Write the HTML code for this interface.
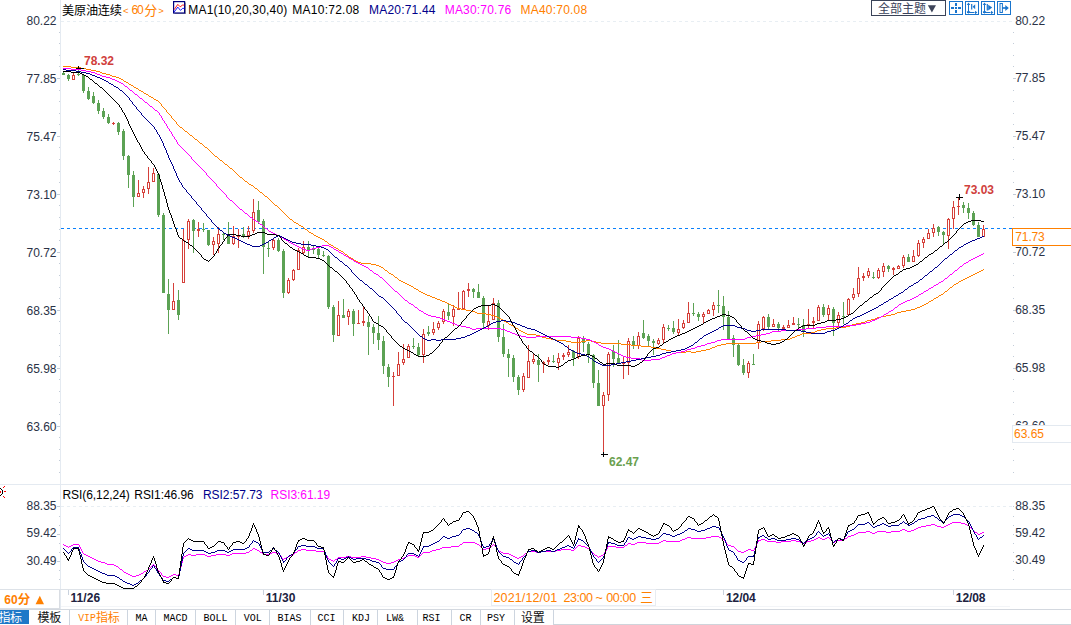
<!DOCTYPE html>
<html><head><meta charset="utf-8"><title>chart</title>
<style>html,body{margin:0;padding:0;background:#fff;overflow:hidden}svg text{white-space:pre}</style></head>
<body>
<svg width="1071" height="625" viewBox="0 0 1071 625" font-family='"Liberation Sans", sans-serif' style="display:block">
<rect width="1071" height="625" fill="#fff"/>
<g shape-rendering="crispEdges">
<rect x="60" y="0" width="1" height="609" fill="#e4eaf1"/>
<rect x="0" y="484" width="1071" height="1" fill="#e4eaf1"/>
<rect x="0" y="589" width="1071" height="1" fill="#dde2e8"/>
<rect x="61" y="606" width="949" height="1" fill="#f3f5f8"/>
<rect x="0" y="608" width="60" height="1" fill="#d9dde3"/>
<rect x="59" y="590" width="1" height="19" fill="#d9dde3"/>
<rect x="0" y="609" width="1071" height="1" fill="#d3d8df"/>
<rect x="553" y="624" width="518" height="1" fill="#cfd4db"/>
</g>
<line x1="61" y1="21.5" x2="1012" y2="21.5" stroke="#e8eef3" stroke-dasharray="3 3" shape-rendering="crispEdges"/>
<line x1="61" y1="506.5" x2="1012" y2="506.5" stroke="#e8eef3" stroke-dasharray="3 3" shape-rendering="crispEdges"/>
<g shape-rendering="crispEdges">
<rect x="59" y="32" width="1" height="1" fill="#c3ccd8"/>
<rect x="1013" y="32" width="1" height="1" fill="#c3ccd8"/>
<rect x="59" y="43" width="1" height="1" fill="#c3ccd8"/>
<rect x="1013" y="43" width="1" height="1" fill="#c3ccd8"/>
<rect x="59" y="55" width="1" height="1" fill="#c3ccd8"/>
<rect x="1013" y="55" width="1" height="1" fill="#c3ccd8"/>
<rect x="59" y="66" width="1" height="1" fill="#c3ccd8"/>
<rect x="1013" y="66" width="1" height="1" fill="#c3ccd8"/>
<rect x="57" y="78" width="3" height="1" fill="#c3ccd8"/>
<rect x="1013" y="78" width="3" height="1" fill="#c3ccd8"/>
<rect x="59" y="90" width="1" height="1" fill="#c3ccd8"/>
<rect x="1013" y="90" width="1" height="1" fill="#c3ccd8"/>
<rect x="59" y="101" width="1" height="1" fill="#c3ccd8"/>
<rect x="1013" y="101" width="1" height="1" fill="#c3ccd8"/>
<rect x="59" y="113" width="1" height="1" fill="#c3ccd8"/>
<rect x="1013" y="113" width="1" height="1" fill="#c3ccd8"/>
<rect x="59" y="124" width="1" height="1" fill="#c3ccd8"/>
<rect x="1013" y="124" width="1" height="1" fill="#c3ccd8"/>
<rect x="57" y="136" width="3" height="1" fill="#c3ccd8"/>
<rect x="1013" y="136" width="3" height="1" fill="#c3ccd8"/>
<rect x="59" y="147" width="1" height="1" fill="#c3ccd8"/>
<rect x="1013" y="147" width="1" height="1" fill="#c3ccd8"/>
<rect x="59" y="159" width="1" height="1" fill="#c3ccd8"/>
<rect x="1013" y="159" width="1" height="1" fill="#c3ccd8"/>
<rect x="59" y="171" width="1" height="1" fill="#c3ccd8"/>
<rect x="1013" y="171" width="1" height="1" fill="#c3ccd8"/>
<rect x="59" y="182" width="1" height="1" fill="#c3ccd8"/>
<rect x="1013" y="182" width="1" height="1" fill="#c3ccd8"/>
<rect x="57" y="194" width="3" height="1" fill="#c3ccd8"/>
<rect x="1013" y="194" width="3" height="1" fill="#c3ccd8"/>
<rect x="59" y="205" width="1" height="1" fill="#c3ccd8"/>
<rect x="1013" y="205" width="1" height="1" fill="#c3ccd8"/>
<rect x="59" y="217" width="1" height="1" fill="#c3ccd8"/>
<rect x="1013" y="217" width="1" height="1" fill="#c3ccd8"/>
<rect x="59" y="229" width="1" height="1" fill="#c3ccd8"/>
<rect x="1013" y="229" width="1" height="1" fill="#c3ccd8"/>
<rect x="59" y="240" width="1" height="1" fill="#c3ccd8"/>
<rect x="1013" y="240" width="1" height="1" fill="#c3ccd8"/>
<rect x="57" y="252" width="3" height="1" fill="#c3ccd8"/>
<rect x="1013" y="252" width="3" height="1" fill="#c3ccd8"/>
<rect x="59" y="263" width="1" height="1" fill="#c3ccd8"/>
<rect x="1013" y="263" width="1" height="1" fill="#c3ccd8"/>
<rect x="59" y="275" width="1" height="1" fill="#c3ccd8"/>
<rect x="1013" y="275" width="1" height="1" fill="#c3ccd8"/>
<rect x="59" y="287" width="1" height="1" fill="#c3ccd8"/>
<rect x="1013" y="287" width="1" height="1" fill="#c3ccd8"/>
<rect x="59" y="298" width="1" height="1" fill="#c3ccd8"/>
<rect x="1013" y="298" width="1" height="1" fill="#c3ccd8"/>
<rect x="57" y="310" width="3" height="1" fill="#c3ccd8"/>
<rect x="1013" y="310" width="3" height="1" fill="#c3ccd8"/>
<rect x="59" y="321" width="1" height="1" fill="#c3ccd8"/>
<rect x="1013" y="321" width="1" height="1" fill="#c3ccd8"/>
<rect x="59" y="333" width="1" height="1" fill="#c3ccd8"/>
<rect x="1013" y="333" width="1" height="1" fill="#c3ccd8"/>
<rect x="59" y="345" width="1" height="1" fill="#c3ccd8"/>
<rect x="1013" y="345" width="1" height="1" fill="#c3ccd8"/>
<rect x="59" y="356" width="1" height="1" fill="#c3ccd8"/>
<rect x="1013" y="356" width="1" height="1" fill="#c3ccd8"/>
<rect x="57" y="368" width="3" height="1" fill="#c3ccd8"/>
<rect x="1013" y="368" width="3" height="1" fill="#c3ccd8"/>
<rect x="59" y="379" width="1" height="1" fill="#c3ccd8"/>
<rect x="1013" y="379" width="1" height="1" fill="#c3ccd8"/>
<rect x="59" y="391" width="1" height="1" fill="#c3ccd8"/>
<rect x="1013" y="391" width="1" height="1" fill="#c3ccd8"/>
<rect x="59" y="402" width="1" height="1" fill="#c3ccd8"/>
<rect x="1013" y="402" width="1" height="1" fill="#c3ccd8"/>
<rect x="59" y="414" width="1" height="1" fill="#c3ccd8"/>
<rect x="1013" y="414" width="1" height="1" fill="#c3ccd8"/>
<rect x="57" y="426" width="3" height="1" fill="#c3ccd8"/>
<rect x="1013" y="426" width="3" height="1" fill="#c3ccd8"/>
<rect x="59" y="437" width="1" height="1" fill="#c3ccd8"/>
<rect x="1013" y="437" width="1" height="1" fill="#c3ccd8"/>
<rect x="59" y="449" width="1" height="1" fill="#c3ccd8"/>
<rect x="1013" y="449" width="1" height="1" fill="#c3ccd8"/>
<rect x="59" y="460" width="1" height="1" fill="#c3ccd8"/>
<rect x="1013" y="460" width="1" height="1" fill="#c3ccd8"/>
<rect x="59" y="472" width="1" height="1" fill="#c3ccd8"/>
<rect x="1013" y="472" width="1" height="1" fill="#c3ccd8"/>
<rect x="57" y="506" width="3" height="1" fill="#c3ccd8"/>
<rect x="1013" y="506" width="1" height="1" fill="#c3ccd8"/>
<rect x="59" y="516" width="1" height="1" fill="#c3ccd8"/>
<rect x="1013" y="516" width="1" height="1" fill="#c3ccd8"/>
<rect x="59" y="525" width="1" height="1" fill="#c3ccd8"/>
<rect x="1013" y="525" width="1" height="1" fill="#c3ccd8"/>
<rect x="57" y="534" width="3" height="1" fill="#c3ccd8"/>
<rect x="1013" y="534" width="1" height="1" fill="#c3ccd8"/>
<rect x="59" y="543" width="1" height="1" fill="#c3ccd8"/>
<rect x="1013" y="543" width="1" height="1" fill="#c3ccd8"/>
<rect x="59" y="552" width="1" height="1" fill="#c3ccd8"/>
<rect x="1013" y="552" width="1" height="1" fill="#c3ccd8"/>
<rect x="57" y="561" width="3" height="1" fill="#c3ccd8"/>
<rect x="1013" y="561" width="1" height="1" fill="#c3ccd8"/>
<rect x="59" y="570" width="1" height="1" fill="#c3ccd8"/>
<rect x="1013" y="570" width="1" height="1" fill="#c3ccd8"/>
<rect x="59" y="579" width="1" height="1" fill="#c3ccd8"/>
<rect x="1013" y="579" width="1" height="1" fill="#c3ccd8"/>
</g>
<text x="56.5" y="25.1" font-size="12" fill="#2a3246" text-anchor="end" font-weight="normal" >80.22</text>
<text x="1015.2" y="25.400000000000002" font-size="12" fill="#2a3246" text-anchor="start" font-weight="normal" >80.22</text>
<text x="56.5" y="83.1" font-size="12" fill="#2a3246" text-anchor="end" font-weight="normal" >77.85</text>
<text x="1015.2" y="82.39999999999999" font-size="12" fill="#2a3246" text-anchor="start" font-weight="normal" >77.85</text>
<text x="56.5" y="141.10000000000002" font-size="12" fill="#2a3246" text-anchor="end" font-weight="normal" >75.47</text>
<text x="1015.2" y="140.4" font-size="12" fill="#2a3246" text-anchor="start" font-weight="normal" >75.47</text>
<text x="56.5" y="199.10000000000002" font-size="12" fill="#2a3246" text-anchor="end" font-weight="normal" >73.10</text>
<text x="1015.2" y="198.4" font-size="12" fill="#2a3246" text-anchor="start" font-weight="normal" >73.10</text>
<text x="56.5" y="257.1" font-size="12" fill="#2a3246" text-anchor="end" font-weight="normal" >70.72</text>
<text x="1015.2" y="256.40000000000003" font-size="12" fill="#2a3246" text-anchor="start" font-weight="normal" >70.72</text>
<text x="56.5" y="315.1" font-size="12" fill="#2a3246" text-anchor="end" font-weight="normal" >68.35</text>
<text x="1015.2" y="314.40000000000003" font-size="12" fill="#2a3246" text-anchor="start" font-weight="normal" >68.35</text>
<text x="56.5" y="373.1" font-size="12" fill="#2a3246" text-anchor="end" font-weight="normal" >65.98</text>
<text x="1015.2" y="372.40000000000003" font-size="12" fill="#2a3246" text-anchor="start" font-weight="normal" >65.98</text>
<text x="56.5" y="431.1" font-size="12" fill="#2a3246" text-anchor="end" font-weight="normal" >63.60</text>
<text x="1015.2" y="430.40000000000003" font-size="12" fill="#2a3246" text-anchor="start" font-weight="normal" >63.60</text>
<text x="56.5" y="510.3" font-size="12" fill="#2a3246" text-anchor="end" font-weight="normal" >88.35</text>
<text x="1015.2" y="509.6" font-size="12" fill="#2a3246" text-anchor="start" font-weight="normal" >88.35</text>
<text x="56.5" y="537.3" font-size="12" fill="#2a3246" text-anchor="end" font-weight="normal" >59.42</text>
<text x="1015.2" y="536.6" font-size="12" fill="#2a3246" text-anchor="start" font-weight="normal" >59.42</text>
<text x="56.5" y="564.6999999999999" font-size="12" fill="#2a3246" text-anchor="end" font-weight="normal" >30.49</text>
<text x="1015.2" y="564.0" font-size="12" fill="#2a3246" text-anchor="start" font-weight="normal" >30.49</text>
<line x1="61" y1="228.5" x2="1012" y2="228.5" stroke="#0a80fa" stroke-dasharray="3 3" shape-rendering="crispEdges"/>
<g shape-rendering="crispEdges">
<rect x="63" y="71" width="1" height="4" fill="#5ca254"/>
<rect x="62" y="73" width="3" height="2" fill="#5ca254"/>
<rect x="68" y="74" width="1" height="7" fill="#5ca254"/>
<rect x="67" y="75" width="3" height="4" fill="#5ca254"/>
<rect x="73" y="73" width="1" height="7" fill="#d5403a"/>
<rect x="72" y="75" width="3" height="5" fill="#d5403a"/>
<rect x="73" y="76" width="1" height="3" fill="#fff"/>
<rect x="78" y="66" width="1" height="10" fill="#5ca254"/>
<rect x="77" y="74" width="3" height="1" fill="#5ca254"/>
<rect x="83" y="74" width="1" height="19" fill="#5ca254"/>
<rect x="82" y="75" width="3" height="16" fill="#5ca254"/>
<rect x="88" y="87" width="1" height="13" fill="#5ca254"/>
<rect x="87" y="91" width="3" height="8" fill="#5ca254"/>
<rect x="93" y="92" width="1" height="12" fill="#5ca254"/>
<rect x="92" y="96" width="3" height="7" fill="#5ca254"/>
<rect x="98" y="100" width="1" height="14" fill="#5ca254"/>
<rect x="97" y="103" width="3" height="8" fill="#5ca254"/>
<rect x="103" y="108" width="1" height="11" fill="#5ca254"/>
<rect x="102" y="111" width="3" height="6" fill="#5ca254"/>
<rect x="108" y="114" width="1" height="10" fill="#5ca254"/>
<rect x="107" y="117" width="3" height="6" fill="#5ca254"/>
<rect x="113" y="122" width="1" height="3" fill="#d5403a"/>
<rect x="112" y="123" width="3" height="1" fill="#d5403a"/>
<rect x="118" y="122" width="1" height="13" fill="#5ca254"/>
<rect x="117" y="123" width="3" height="9" fill="#5ca254"/>
<rect x="123" y="129" width="1" height="31" fill="#5ca254"/>
<rect x="122" y="131" width="3" height="25" fill="#5ca254"/>
<rect x="128" y="155" width="1" height="33" fill="#5ca254"/>
<rect x="127" y="156" width="3" height="19" fill="#5ca254"/>
<rect x="133" y="171" width="1" height="36" fill="#5ca254"/>
<rect x="132" y="175" width="3" height="22" fill="#5ca254"/>
<rect x="138" y="180" width="1" height="17" fill="#d5403a"/>
<rect x="137" y="193" width="3" height="4" fill="#d5403a"/>
<rect x="138" y="194" width="1" height="2" fill="#fff"/>
<rect x="143" y="186" width="1" height="12" fill="#d5403a"/>
<rect x="142" y="189" width="3" height="4" fill="#d5403a"/>
<rect x="143" y="190" width="1" height="2" fill="#fff"/>
<rect x="148" y="167" width="1" height="27" fill="#d5403a"/>
<rect x="147" y="182" width="3" height="7" fill="#d5403a"/>
<rect x="148" y="183" width="1" height="5" fill="#fff"/>
<rect x="153" y="168" width="1" height="14" fill="#d5403a"/>
<rect x="152" y="173" width="3" height="9" fill="#d5403a"/>
<rect x="153" y="174" width="1" height="7" fill="#fff"/>
<rect x="158" y="173" width="1" height="44" fill="#5ca254"/>
<rect x="157" y="174" width="3" height="41" fill="#5ca254"/>
<rect x="163" y="213" width="1" height="80" fill="#5ca254"/>
<rect x="162" y="215" width="3" height="78" fill="#5ca254"/>
<rect x="168" y="279" width="1" height="55" fill="#5ca254"/>
<rect x="167" y="294" width="3" height="16" fill="#5ca254"/>
<rect x="173" y="283" width="1" height="27" fill="#d5403a"/>
<rect x="172" y="301" width="3" height="9" fill="#d5403a"/>
<rect x="173" y="302" width="1" height="7" fill="#fff"/>
<rect x="178" y="290" width="1" height="30" fill="#5ca254"/>
<rect x="177" y="300" width="3" height="15" fill="#5ca254"/>
<rect x="183" y="229" width="1" height="54" fill="#d5403a"/>
<rect x="182" y="240" width="3" height="43" fill="#d5403a"/>
<rect x="183" y="241" width="1" height="41" fill="#fff"/>
<rect x="188" y="219" width="1" height="30" fill="#d5403a"/>
<rect x="187" y="221" width="3" height="19" fill="#d5403a"/>
<rect x="188" y="222" width="1" height="17" fill="#fff"/>
<rect x="193" y="219" width="1" height="34" fill="#5ca254"/>
<rect x="192" y="220" width="3" height="11" fill="#5ca254"/>
<rect x="198" y="222" width="1" height="15" fill="#d5403a"/>
<rect x="197" y="229" width="3" height="2" fill="#d5403a"/>
<rect x="203" y="223" width="1" height="9" fill="#5ca254"/>
<rect x="202" y="229" width="3" height="1" fill="#5ca254"/>
<rect x="208" y="230" width="1" height="16" fill="#5ca254"/>
<rect x="207" y="230" width="3" height="15" fill="#5ca254"/>
<rect x="213" y="237" width="1" height="18" fill="#d5403a"/>
<rect x="212" y="241" width="3" height="4" fill="#d5403a"/>
<rect x="213" y="242" width="1" height="2" fill="#fff"/>
<rect x="218" y="227" width="1" height="26" fill="#d5403a"/>
<rect x="217" y="234" width="3" height="10" fill="#d5403a"/>
<rect x="218" y="235" width="1" height="8" fill="#fff"/>
<rect x="223" y="232" width="1" height="8" fill="#5ca254"/>
<rect x="222" y="234" width="3" height="1" fill="#5ca254"/>
<rect x="228" y="222" width="1" height="22" fill="#5ca254"/>
<rect x="227" y="234" width="3" height="10" fill="#5ca254"/>
<rect x="233" y="226" width="1" height="19" fill="#d5403a"/>
<rect x="232" y="236" width="3" height="8" fill="#d5403a"/>
<rect x="233" y="237" width="1" height="6" fill="#fff"/>
<rect x="238" y="229" width="1" height="19" fill="#d5403a"/>
<rect x="237" y="235" width="3" height="2" fill="#d5403a"/>
<rect x="243" y="227" width="1" height="11" fill="#5ca254"/>
<rect x="242" y="234" width="3" height="2" fill="#5ca254"/>
<rect x="248" y="226" width="1" height="13" fill="#d5403a"/>
<rect x="247" y="231" width="3" height="5" fill="#d5403a"/>
<rect x="248" y="232" width="1" height="3" fill="#fff"/>
<rect x="253" y="199" width="1" height="34" fill="#d5403a"/>
<rect x="252" y="212" width="3" height="19" fill="#d5403a"/>
<rect x="253" y="213" width="1" height="17" fill="#fff"/>
<rect x="258" y="201" width="1" height="23" fill="#5ca254"/>
<rect x="257" y="210" width="3" height="12" fill="#5ca254"/>
<rect x="263" y="219" width="1" height="55" fill="#5ca254"/>
<rect x="262" y="221" width="3" height="26" fill="#5ca254"/>
<rect x="268" y="242" width="1" height="15" fill="#5ca254"/>
<rect x="267" y="248" width="3" height="1" fill="#5ca254"/>
<rect x="273" y="238" width="1" height="12" fill="#d5403a"/>
<rect x="272" y="240" width="3" height="8" fill="#d5403a"/>
<rect x="273" y="241" width="1" height="6" fill="#fff"/>
<rect x="278" y="238" width="1" height="14" fill="#5ca254"/>
<rect x="277" y="240" width="3" height="11" fill="#5ca254"/>
<rect x="283" y="249" width="1" height="49" fill="#5ca254"/>
<rect x="282" y="251" width="3" height="42" fill="#5ca254"/>
<rect x="288" y="278" width="1" height="16" fill="#d5403a"/>
<rect x="287" y="280" width="3" height="13" fill="#d5403a"/>
<rect x="288" y="281" width="1" height="11" fill="#fff"/>
<rect x="293" y="269" width="1" height="12" fill="#d5403a"/>
<rect x="292" y="270" width="3" height="10" fill="#d5403a"/>
<rect x="293" y="271" width="1" height="8" fill="#fff"/>
<rect x="298" y="248" width="1" height="22" fill="#d5403a"/>
<rect x="297" y="250" width="3" height="20" fill="#d5403a"/>
<rect x="298" y="251" width="1" height="18" fill="#fff"/>
<rect x="303" y="241" width="1" height="13" fill="#d5403a"/>
<rect x="302" y="247" width="3" height="6" fill="#d5403a"/>
<rect x="303" y="248" width="1" height="4" fill="#fff"/>
<rect x="308" y="241" width="1" height="16" fill="#5ca254"/>
<rect x="307" y="247" width="3" height="3" fill="#5ca254"/>
<rect x="313" y="245" width="1" height="9" fill="#5ca254"/>
<rect x="312" y="248" width="3" height="2" fill="#5ca254"/>
<rect x="318" y="247" width="1" height="11" fill="#5ca254"/>
<rect x="317" y="249" width="3" height="6" fill="#5ca254"/>
<rect x="323" y="251" width="1" height="6" fill="#5ca254"/>
<rect x="322" y="255" width="3" height="1" fill="#5ca254"/>
<rect x="328" y="255" width="1" height="54" fill="#5ca254"/>
<rect x="327" y="256" width="3" height="51" fill="#5ca254"/>
<rect x="333" y="305" width="1" height="37" fill="#5ca254"/>
<rect x="332" y="307" width="3" height="28" fill="#5ca254"/>
<rect x="338" y="301" width="1" height="35" fill="#d5403a"/>
<rect x="337" y="315" width="3" height="21" fill="#d5403a"/>
<rect x="338" y="316" width="1" height="19" fill="#fff"/>
<rect x="343" y="299" width="1" height="19" fill="#5ca254"/>
<rect x="342" y="315" width="3" height="3" fill="#5ca254"/>
<rect x="348" y="309" width="1" height="16" fill="#d5403a"/>
<rect x="347" y="311" width="3" height="6" fill="#d5403a"/>
<rect x="348" y="312" width="1" height="4" fill="#fff"/>
<rect x="353" y="309" width="1" height="27" fill="#5ca254"/>
<rect x="352" y="311" width="3" height="13" fill="#5ca254"/>
<rect x="358" y="310" width="1" height="14" fill="#d5403a"/>
<rect x="357" y="323" width="3" height="1" fill="#d5403a"/>
<rect x="363" y="307" width="1" height="19" fill="#d5403a"/>
<rect x="362" y="321" width="3" height="2" fill="#d5403a"/>
<rect x="368" y="316" width="1" height="39" fill="#5ca254"/>
<rect x="367" y="322" width="3" height="5" fill="#5ca254"/>
<rect x="373" y="324" width="1" height="20" fill="#5ca254"/>
<rect x="372" y="327" width="3" height="6" fill="#5ca254"/>
<rect x="378" y="316" width="1" height="34" fill="#5ca254"/>
<rect x="377" y="333" width="3" height="7" fill="#5ca254"/>
<rect x="383" y="336" width="1" height="38" fill="#5ca254"/>
<rect x="382" y="341" width="3" height="25" fill="#5ca254"/>
<rect x="388" y="364" width="1" height="23" fill="#5ca254"/>
<rect x="387" y="367" width="3" height="10" fill="#5ca254"/>
<rect x="393" y="372" width="1" height="34" fill="#d5403a"/>
<rect x="392" y="376" width="3" height="1" fill="#d5403a"/>
<rect x="398" y="352" width="1" height="24" fill="#d5403a"/>
<rect x="397" y="364" width="3" height="12" fill="#d5403a"/>
<rect x="398" y="365" width="1" height="10" fill="#fff"/>
<rect x="403" y="344" width="1" height="21" fill="#d5403a"/>
<rect x="402" y="359" width="3" height="4" fill="#d5403a"/>
<rect x="403" y="360" width="1" height="2" fill="#fff"/>
<rect x="408" y="344" width="1" height="14" fill="#d5403a"/>
<rect x="407" y="346" width="3" height="12" fill="#d5403a"/>
<rect x="408" y="347" width="1" height="10" fill="#fff"/>
<rect x="413" y="338" width="1" height="11" fill="#5ca254"/>
<rect x="412" y="346" width="3" height="1" fill="#5ca254"/>
<rect x="418" y="343" width="1" height="14" fill="#5ca254"/>
<rect x="417" y="347" width="3" height="8" fill="#5ca254"/>
<rect x="423" y="329" width="1" height="34" fill="#d5403a"/>
<rect x="422" y="334" width="3" height="21" fill="#d5403a"/>
<rect x="423" y="335" width="1" height="19" fill="#fff"/>
<rect x="428" y="326" width="1" height="10" fill="#5ca254"/>
<rect x="427" y="332" width="3" height="2" fill="#5ca254"/>
<rect x="433" y="322" width="1" height="13" fill="#d5403a"/>
<rect x="432" y="329" width="3" height="4" fill="#d5403a"/>
<rect x="433" y="330" width="1" height="2" fill="#fff"/>
<rect x="438" y="321" width="1" height="9" fill="#d5403a"/>
<rect x="437" y="323" width="3" height="5" fill="#d5403a"/>
<rect x="438" y="324" width="1" height="3" fill="#fff"/>
<rect x="443" y="309" width="1" height="15" fill="#d5403a"/>
<rect x="442" y="311" width="3" height="11" fill="#d5403a"/>
<rect x="443" y="312" width="1" height="9" fill="#fff"/>
<rect x="448" y="304" width="1" height="16" fill="#5ca254"/>
<rect x="447" y="312" width="3" height="4" fill="#5ca254"/>
<rect x="453" y="305" width="1" height="21" fill="#d5403a"/>
<rect x="452" y="309" width="3" height="8" fill="#d5403a"/>
<rect x="453" y="310" width="1" height="6" fill="#fff"/>
<rect x="458" y="292" width="1" height="18" fill="#d5403a"/>
<rect x="457" y="308" width="3" height="2" fill="#d5403a"/>
<rect x="463" y="290" width="1" height="19" fill="#d5403a"/>
<rect x="462" y="291" width="3" height="18" fill="#d5403a"/>
<rect x="463" y="292" width="1" height="16" fill="#fff"/>
<rect x="468" y="283" width="1" height="14" fill="#d5403a"/>
<rect x="467" y="289" width="3" height="2" fill="#d5403a"/>
<rect x="473" y="288" width="1" height="10" fill="#5ca254"/>
<rect x="472" y="289" width="3" height="3" fill="#5ca254"/>
<rect x="478" y="284" width="1" height="14" fill="#5ca254"/>
<rect x="477" y="292" width="3" height="6" fill="#5ca254"/>
<rect x="483" y="296" width="1" height="32" fill="#5ca254"/>
<rect x="482" y="298" width="3" height="25" fill="#5ca254"/>
<rect x="488" y="306" width="1" height="24" fill="#d5403a"/>
<rect x="487" y="321" width="3" height="5" fill="#d5403a"/>
<rect x="488" y="322" width="1" height="3" fill="#fff"/>
<rect x="493" y="298" width="1" height="22" fill="#d5403a"/>
<rect x="492" y="303" width="3" height="17" fill="#d5403a"/>
<rect x="493" y="304" width="1" height="15" fill="#fff"/>
<rect x="498" y="300" width="1" height="42" fill="#5ca254"/>
<rect x="497" y="303" width="3" height="34" fill="#5ca254"/>
<rect x="503" y="324" width="1" height="33" fill="#5ca254"/>
<rect x="502" y="337" width="3" height="17" fill="#5ca254"/>
<rect x="508" y="349" width="1" height="28" fill="#5ca254"/>
<rect x="507" y="354" width="3" height="4" fill="#5ca254"/>
<rect x="513" y="355" width="1" height="27" fill="#5ca254"/>
<rect x="512" y="358" width="3" height="19" fill="#5ca254"/>
<rect x="518" y="375" width="1" height="20" fill="#5ca254"/>
<rect x="517" y="377" width="3" height="13" fill="#5ca254"/>
<rect x="523" y="373" width="1" height="19" fill="#d5403a"/>
<rect x="522" y="376" width="3" height="14" fill="#d5403a"/>
<rect x="523" y="377" width="1" height="12" fill="#fff"/>
<rect x="528" y="345" width="1" height="33" fill="#d5403a"/>
<rect x="527" y="361" width="3" height="17" fill="#d5403a"/>
<rect x="528" y="362" width="1" height="15" fill="#fff"/>
<rect x="533" y="353" width="1" height="11" fill="#d5403a"/>
<rect x="532" y="359" width="3" height="3" fill="#d5403a"/>
<rect x="533" y="360" width="1" height="1" fill="#fff"/>
<rect x="538" y="354" width="1" height="28" fill="#5ca254"/>
<rect x="537" y="360" width="3" height="5" fill="#5ca254"/>
<rect x="543" y="361" width="1" height="12" fill="#d5403a"/>
<rect x="542" y="362" width="3" height="2" fill="#d5403a"/>
<rect x="548" y="357" width="1" height="8" fill="#d5403a"/>
<rect x="547" y="360" width="3" height="2" fill="#d5403a"/>
<rect x="553" y="355" width="1" height="8" fill="#5ca254"/>
<rect x="552" y="361" width="3" height="1" fill="#5ca254"/>
<rect x="558" y="353" width="1" height="17" fill="#d5403a"/>
<rect x="557" y="358" width="3" height="5" fill="#d5403a"/>
<rect x="558" y="359" width="1" height="3" fill="#fff"/>
<rect x="563" y="353" width="1" height="7" fill="#d5403a"/>
<rect x="562" y="355" width="3" height="2" fill="#d5403a"/>
<rect x="568" y="345" width="1" height="12" fill="#d5403a"/>
<rect x="567" y="352" width="3" height="3" fill="#d5403a"/>
<rect x="568" y="353" width="1" height="1" fill="#fff"/>
<rect x="573" y="350" width="1" height="16" fill="#5ca254"/>
<rect x="572" y="351" width="3" height="7" fill="#5ca254"/>
<rect x="578" y="336" width="1" height="23" fill="#d5403a"/>
<rect x="577" y="338" width="3" height="19" fill="#d5403a"/>
<rect x="578" y="339" width="1" height="17" fill="#fff"/>
<rect x="583" y="336" width="1" height="16" fill="#5ca254"/>
<rect x="582" y="338" width="3" height="5" fill="#5ca254"/>
<rect x="588" y="342" width="1" height="21" fill="#5ca254"/>
<rect x="587" y="344" width="3" height="10" fill="#5ca254"/>
<rect x="593" y="354" width="1" height="34" fill="#5ca254"/>
<rect x="592" y="355" width="3" height="28" fill="#5ca254"/>
<rect x="598" y="370" width="1" height="36" fill="#5ca254"/>
<rect x="597" y="383" width="3" height="23" fill="#5ca254"/>
<rect x="603" y="392" width="1" height="62" fill="#d5403a"/>
<rect x="602" y="395" width="3" height="11" fill="#d5403a"/>
<rect x="603" y="396" width="1" height="9" fill="#fff"/>
<rect x="608" y="352" width="1" height="49" fill="#d5403a"/>
<rect x="607" y="354" width="3" height="41" fill="#d5403a"/>
<rect x="608" y="355" width="1" height="39" fill="#fff"/>
<rect x="613" y="345" width="1" height="22" fill="#5ca254"/>
<rect x="612" y="351" width="3" height="8" fill="#5ca254"/>
<rect x="618" y="340" width="1" height="24" fill="#5ca254"/>
<rect x="617" y="358" width="3" height="6" fill="#5ca254"/>
<rect x="623" y="357" width="1" height="22" fill="#d5403a"/>
<rect x="622" y="363" width="3" height="1" fill="#d5403a"/>
<rect x="628" y="338" width="1" height="37" fill="#d5403a"/>
<rect x="627" y="341" width="3" height="22" fill="#d5403a"/>
<rect x="628" y="342" width="1" height="20" fill="#fff"/>
<rect x="633" y="336" width="1" height="13" fill="#5ca254"/>
<rect x="632" y="341" width="3" height="5" fill="#5ca254"/>
<rect x="638" y="332" width="1" height="17" fill="#d5403a"/>
<rect x="637" y="336" width="3" height="10" fill="#d5403a"/>
<rect x="638" y="337" width="1" height="8" fill="#fff"/>
<rect x="643" y="320" width="1" height="19" fill="#5ca254"/>
<rect x="642" y="333" width="3" height="5" fill="#5ca254"/>
<rect x="648" y="334" width="1" height="12" fill="#5ca254"/>
<rect x="647" y="336" width="3" height="5" fill="#5ca254"/>
<rect x="653" y="339" width="1" height="16" fill="#5ca254"/>
<rect x="652" y="341" width="3" height="2" fill="#5ca254"/>
<rect x="658" y="338" width="1" height="7" fill="#d5403a"/>
<rect x="657" y="340" width="3" height="4" fill="#d5403a"/>
<rect x="658" y="341" width="1" height="2" fill="#fff"/>
<rect x="663" y="324" width="1" height="19" fill="#d5403a"/>
<rect x="662" y="327" width="3" height="13" fill="#d5403a"/>
<rect x="663" y="328" width="1" height="11" fill="#fff"/>
<rect x="668" y="325" width="1" height="6" fill="#5ca254"/>
<rect x="667" y="328" width="3" height="1" fill="#5ca254"/>
<rect x="673" y="321" width="1" height="13" fill="#5ca254"/>
<rect x="672" y="328" width="3" height="4" fill="#5ca254"/>
<rect x="678" y="319" width="1" height="16" fill="#d5403a"/>
<rect x="677" y="329" width="3" height="4" fill="#d5403a"/>
<rect x="678" y="330" width="1" height="2" fill="#fff"/>
<rect x="683" y="320" width="1" height="9" fill="#d5403a"/>
<rect x="682" y="323" width="3" height="5" fill="#d5403a"/>
<rect x="683" y="324" width="1" height="3" fill="#fff"/>
<rect x="688" y="302" width="1" height="21" fill="#d5403a"/>
<rect x="687" y="313" width="3" height="10" fill="#d5403a"/>
<rect x="688" y="314" width="1" height="8" fill="#fff"/>
<rect x="693" y="303" width="1" height="13" fill="#5ca254"/>
<rect x="692" y="313" width="3" height="1" fill="#5ca254"/>
<rect x="698" y="312" width="1" height="9" fill="#5ca254"/>
<rect x="697" y="314" width="3" height="3" fill="#5ca254"/>
<rect x="703" y="312" width="1" height="11" fill="#d5403a"/>
<rect x="702" y="314" width="3" height="3" fill="#d5403a"/>
<rect x="703" y="315" width="1" height="1" fill="#fff"/>
<rect x="708" y="309" width="1" height="5" fill="#d5403a"/>
<rect x="707" y="310" width="3" height="4" fill="#d5403a"/>
<rect x="708" y="311" width="1" height="2" fill="#fff"/>
<rect x="713" y="302" width="1" height="14" fill="#d5403a"/>
<rect x="712" y="305" width="3" height="5" fill="#d5403a"/>
<rect x="713" y="306" width="1" height="3" fill="#fff"/>
<rect x="718" y="290" width="1" height="23" fill="#5ca254"/>
<rect x="717" y="305" width="3" height="1" fill="#5ca254"/>
<rect x="723" y="296" width="1" height="34" fill="#5ca254"/>
<rect x="722" y="306" width="3" height="11" fill="#5ca254"/>
<rect x="728" y="311" width="1" height="28" fill="#5ca254"/>
<rect x="727" y="317" width="3" height="22" fill="#5ca254"/>
<rect x="733" y="335" width="1" height="22" fill="#5ca254"/>
<rect x="732" y="338" width="3" height="7" fill="#5ca254"/>
<rect x="738" y="344" width="1" height="22" fill="#5ca254"/>
<rect x="737" y="345" width="3" height="20" fill="#5ca254"/>
<rect x="743" y="359" width="1" height="16" fill="#5ca254"/>
<rect x="742" y="365" width="3" height="8" fill="#5ca254"/>
<rect x="748" y="361" width="1" height="17" fill="#d5403a"/>
<rect x="747" y="363" width="3" height="10" fill="#d5403a"/>
<rect x="748" y="364" width="1" height="8" fill="#fff"/>
<rect x="753" y="354" width="1" height="11" fill="#5ca254"/>
<rect x="752" y="364" width="3" height="1" fill="#5ca254"/>
<rect x="758" y="321" width="1" height="28" fill="#d5403a"/>
<rect x="757" y="324" width="3" height="19" fill="#d5403a"/>
<rect x="758" y="325" width="1" height="17" fill="#fff"/>
<rect x="763" y="316" width="1" height="15" fill="#d5403a"/>
<rect x="762" y="317" width="3" height="12" fill="#d5403a"/>
<rect x="763" y="318" width="1" height="10" fill="#fff"/>
<rect x="768" y="314" width="1" height="16" fill="#5ca254"/>
<rect x="767" y="317" width="3" height="10" fill="#5ca254"/>
<rect x="773" y="319" width="1" height="8" fill="#d5403a"/>
<rect x="772" y="324" width="3" height="3" fill="#d5403a"/>
<rect x="773" y="325" width="1" height="1" fill="#fff"/>
<rect x="778" y="322" width="1" height="9" fill="#5ca254"/>
<rect x="777" y="324" width="3" height="4" fill="#5ca254"/>
<rect x="783" y="325" width="1" height="4" fill="#d5403a"/>
<rect x="782" y="327" width="3" height="2" fill="#d5403a"/>
<rect x="788" y="320" width="1" height="8" fill="#d5403a"/>
<rect x="787" y="325" width="3" height="3" fill="#d5403a"/>
<rect x="788" y="326" width="1" height="1" fill="#fff"/>
<rect x="793" y="317" width="1" height="8" fill="#d5403a"/>
<rect x="792" y="323" width="3" height="2" fill="#d5403a"/>
<rect x="798" y="318" width="1" height="10" fill="#5ca254"/>
<rect x="797" y="324" width="3" height="1" fill="#5ca254"/>
<rect x="803" y="319" width="1" height="18" fill="#5ca254"/>
<rect x="802" y="325" width="3" height="6" fill="#5ca254"/>
<rect x="808" y="309" width="1" height="19" fill="#d5403a"/>
<rect x="807" y="324" width="3" height="2" fill="#d5403a"/>
<rect x="813" y="317" width="1" height="12" fill="#d5403a"/>
<rect x="812" y="321" width="3" height="2" fill="#d5403a"/>
<rect x="818" y="305" width="1" height="16" fill="#d5403a"/>
<rect x="817" y="307" width="3" height="14" fill="#d5403a"/>
<rect x="818" y="308" width="1" height="12" fill="#fff"/>
<rect x="823" y="304" width="1" height="13" fill="#5ca254"/>
<rect x="822" y="307" width="3" height="8" fill="#5ca254"/>
<rect x="828" y="305" width="1" height="15" fill="#d5403a"/>
<rect x="827" y="308" width="3" height="7" fill="#d5403a"/>
<rect x="828" y="309" width="1" height="5" fill="#fff"/>
<rect x="833" y="307" width="1" height="29" fill="#5ca254"/>
<rect x="832" y="309" width="3" height="14" fill="#5ca254"/>
<rect x="838" y="312" width="1" height="14" fill="#d5403a"/>
<rect x="837" y="315" width="3" height="8" fill="#d5403a"/>
<rect x="838" y="316" width="1" height="6" fill="#fff"/>
<rect x="843" y="302" width="1" height="22" fill="#5ca254"/>
<rect x="842" y="316" width="3" height="1" fill="#5ca254"/>
<rect x="848" y="298" width="1" height="17" fill="#d5403a"/>
<rect x="847" y="299" width="3" height="16" fill="#d5403a"/>
<rect x="848" y="300" width="1" height="14" fill="#fff"/>
<rect x="853" y="288" width="1" height="12" fill="#d5403a"/>
<rect x="852" y="294" width="3" height="4" fill="#d5403a"/>
<rect x="853" y="295" width="1" height="2" fill="#fff"/>
<rect x="858" y="267" width="1" height="30" fill="#d5403a"/>
<rect x="857" y="278" width="3" height="16" fill="#d5403a"/>
<rect x="858" y="279" width="1" height="14" fill="#fff"/>
<rect x="863" y="273" width="1" height="8" fill="#d5403a"/>
<rect x="862" y="276" width="3" height="2" fill="#d5403a"/>
<rect x="868" y="268" width="1" height="10" fill="#d5403a"/>
<rect x="867" y="271" width="3" height="5" fill="#d5403a"/>
<rect x="868" y="272" width="1" height="3" fill="#fff"/>
<rect x="873" y="272" width="1" height="7" fill="#5ca254"/>
<rect x="872" y="277" width="3" height="1" fill="#5ca254"/>
<rect x="878" y="268" width="1" height="11" fill="#d5403a"/>
<rect x="877" y="270" width="3" height="8" fill="#d5403a"/>
<rect x="878" y="271" width="1" height="6" fill="#fff"/>
<rect x="883" y="263" width="1" height="14" fill="#d5403a"/>
<rect x="882" y="266" width="3" height="6" fill="#d5403a"/>
<rect x="883" y="267" width="1" height="4" fill="#fff"/>
<rect x="888" y="265" width="1" height="7" fill="#5ca254"/>
<rect x="887" y="266" width="3" height="3" fill="#5ca254"/>
<rect x="893" y="267" width="1" height="8" fill="#d5403a"/>
<rect x="892" y="268" width="3" height="2" fill="#d5403a"/>
<rect x="898" y="265" width="1" height="4" fill="#d5403a"/>
<rect x="897" y="266" width="3" height="3" fill="#d5403a"/>
<rect x="898" y="267" width="1" height="1" fill="#fff"/>
<rect x="903" y="255" width="1" height="13" fill="#d5403a"/>
<rect x="902" y="257" width="3" height="9" fill="#d5403a"/>
<rect x="903" y="258" width="1" height="7" fill="#fff"/>
<rect x="908" y="254" width="1" height="8" fill="#5ca254"/>
<rect x="907" y="257" width="3" height="5" fill="#5ca254"/>
<rect x="913" y="250" width="1" height="12" fill="#d5403a"/>
<rect x="912" y="256" width="3" height="6" fill="#d5403a"/>
<rect x="913" y="257" width="1" height="4" fill="#fff"/>
<rect x="918" y="240" width="1" height="17" fill="#d5403a"/>
<rect x="917" y="243" width="3" height="13" fill="#d5403a"/>
<rect x="918" y="244" width="1" height="11" fill="#fff"/>
<rect x="923" y="237" width="1" height="11" fill="#d5403a"/>
<rect x="922" y="239" width="3" height="4" fill="#d5403a"/>
<rect x="923" y="240" width="1" height="2" fill="#fff"/>
<rect x="928" y="229" width="1" height="10" fill="#d5403a"/>
<rect x="927" y="233" width="3" height="6" fill="#d5403a"/>
<rect x="928" y="234" width="1" height="4" fill="#fff"/>
<rect x="933" y="224" width="1" height="13" fill="#d5403a"/>
<rect x="932" y="228" width="3" height="5" fill="#d5403a"/>
<rect x="933" y="229" width="1" height="3" fill="#fff"/>
<rect x="938" y="226" width="1" height="10" fill="#5ca254"/>
<rect x="937" y="227" width="3" height="5" fill="#5ca254"/>
<rect x="943" y="231" width="1" height="13" fill="#5ca254"/>
<rect x="942" y="232" width="3" height="3" fill="#5ca254"/>
<rect x="948" y="218" width="1" height="31" fill="#d5403a"/>
<rect x="947" y="219" width="3" height="17" fill="#d5403a"/>
<rect x="948" y="220" width="1" height="15" fill="#fff"/>
<rect x="953" y="201" width="1" height="28" fill="#d5403a"/>
<rect x="952" y="207" width="3" height="12" fill="#d5403a"/>
<rect x="953" y="208" width="1" height="10" fill="#fff"/>
<rect x="958" y="197" width="1" height="18" fill="#d5403a"/>
<rect x="957" y="206" width="3" height="1" fill="#d5403a"/>
<rect x="963" y="202" width="1" height="11" fill="#5ca254"/>
<rect x="962" y="205" width="3" height="3" fill="#5ca254"/>
<rect x="968" y="203" width="1" height="16" fill="#5ca254"/>
<rect x="967" y="208" width="3" height="5" fill="#5ca254"/>
<rect x="973" y="211" width="1" height="15" fill="#5ca254"/>
<rect x="972" y="213" width="3" height="12" fill="#5ca254"/>
<rect x="978" y="222" width="1" height="15" fill="#5ca254"/>
<rect x="977" y="225" width="3" height="12" fill="#5ca254"/>
<rect x="983" y="225" width="1" height="12" fill="#d5403a"/>
<rect x="982" y="229" width="3" height="8" fill="#d5403a"/>
<rect x="983" y="230" width="1" height="6" fill="#fff"/>
</g>
<path d="M63 66h5v1h-5zM68 66h3v1h-3zM71 67h2v1h-2zM73 67h5v1h-5zM78 67h3v1h-3zM81 68h2v1h-2zM83 68h3v1h-3zM86 69h2v1h-2zM88 69h3v1h-3zM91 70h2v1h-2zM93 70h3v1h-3zM96 71h2v1h-2zM98 71h2v1h-2zM100 72h2v1h-2zM102 73h1v1h-1zM103 73h3v1h-3zM106 74h2v1h-2zM108 74h2v1h-2zM110 75h2v1h-2zM112 76h1v1h-1zM113 76h3v1h-3zM116 77h2v1h-2zM118 77h1v1h-1zM119 78h2v1h-2zM121 79h2v1h-2zM123 80h1v1h-1zM124 81h2v1h-2zM126 82h2v1h-2zM128 83h1v1h-1zM129 84h2v1h-2zM131 85h2v1h-2zM133 86h1v1h-1zM134 87h2v1h-2zM136 88h2v1h-2zM138 89h1v1h-1zM139 90h2v1h-2zM141 91h2v1h-2zM143 92h1v1h-1zM144 93h2v1h-2zM146 94h2v1h-2zM148 95h1v1h-1zM149 96h2v1h-2zM151 97h2v1h-2zM153 98h1v1h-1zM154 99h2v1h-2zM156 100h2v1h-2zM158 101h1v1h-1zM159 102h1v1h-1zM160 103h1v1h-1zM161 104h1v2h-1zM162 106h1v1h-1zM163 107h1v1h-1zM164 108h1v1h-1zM165 109h1v1h-1zM166 110h1v2h-1zM167 112h1v1h-1zM168 113h1v1h-1zM169 114h1v1h-1zM170 115h1v1h-1zM171 116h1v2h-1zM172 118h1v1h-1zM173 119h1v1h-1zM174 120h1v1h-1zM175 121h1v1h-1zM176 122h1v2h-1zM177 124h1v1h-1zM178 125h1v1h-1zM179 126h1v1h-1zM180 127h2v1h-2zM182 128h1v1h-1zM183 129h1v1h-1zM184 130h1v1h-1zM185 131h2v1h-2zM187 132h1v1h-1zM188 133h1v1h-1zM189 134h1v1h-1zM190 135h2v1h-2zM192 136h1v1h-1zM193 137h1v1h-1zM194 138h1v1h-1zM195 139h2v1h-2zM197 140h1v1h-1zM198 141h1v1h-1zM199 142h1v1h-1zM200 143h2v1h-2zM202 144h1v1h-1zM203 145h1v1h-1zM204 146h1v1h-1zM205 147h2v1h-2zM207 148h1v1h-1zM208 149h1v1h-1zM209 150h1v1h-1zM210 151h1v1h-1zM211 152h1v1h-1zM212 153h1v1h-1zM213 154h1v1h-1zM214 155h1v1h-1zM215 156h2v1h-2zM217 157h1v1h-1zM218 158h1v1h-1zM219 159h1v1h-1zM220 160h2v1h-2zM222 161h1v1h-1zM223 162h1v1h-1zM224 163h1v1h-1zM225 164h2v1h-2zM227 165h1v1h-1zM228 166h1v1h-1zM229 167h1v1h-1zM230 168h2v1h-2zM232 169h1v1h-1zM233 170h1v1h-1zM234 171h1v1h-1zM235 172h1v1h-1zM236 173h1v1h-1zM237 174h1v1h-1zM238 175h1v1h-1zM239 176h1v1h-1zM240 177h2v1h-2zM242 178h1v1h-1zM243 179h1v1h-1zM244 180h1v1h-1zM245 181h2v1h-2zM247 182h1v1h-1zM248 183h1v1h-1zM249 184h2v1h-2zM251 185h2v1h-2zM253 186h1v1h-1zM254 187h1v1h-1zM255 188h2v1h-2zM257 189h1v1h-1zM258 190h1v1h-1zM259 191h1v1h-1zM260 192h2v1h-2zM262 193h1v1h-1zM263 194h1v1h-1zM264 195h1v1h-1zM265 196h2v1h-2zM267 197h1v1h-1zM268 198h1v1h-1zM269 199h1v1h-1zM270 200h1v1h-1zM271 201h1v1h-1zM272 202h1v1h-1zM273 203h1v1h-1zM274 204h1v1h-1zM275 205h2v1h-2zM277 206h1v1h-1zM278 207h1v1h-1zM279 208h1v1h-1zM280 209h1v1h-1zM281 210h1v1h-1zM282 211h1v1h-1zM283 212h1v1h-1zM284 213h1v1h-1zM285 214h1v1h-1zM286 215h1v1h-1zM287 216h1v1h-1zM288 217h1v1h-1zM289 218h1v1h-1zM290 219h2v1h-2zM292 220h1v1h-1zM293 221h1v1h-1zM294 222h2v1h-2zM296 223h2v1h-2zM298 224h1v1h-1zM299 225h2v1h-2zM301 226h2v1h-2zM303 227h1v1h-1zM304 228h1v1h-1zM305 229h2v1h-2zM307 230h1v1h-1zM308 231h1v1h-1zM309 232h2v1h-2zM311 233h2v1h-2zM313 234h1v1h-1zM314 235h2v1h-2zM316 236h2v1h-2zM318 237h2v1h-2zM320 238h2v1h-2zM322 239h1v1h-1zM323 239h1v1h-1zM324 240h1v1h-1zM325 241h2v1h-2zM327 242h1v1h-1zM328 243h1v1h-1zM329 244h2v1h-2zM331 245h2v1h-2zM333 246h1v1h-1zM334 247h2v1h-2zM336 248h2v1h-2zM338 249h1v1h-1zM339 250h2v1h-2zM341 251h2v1h-2zM343 252h1v1h-1zM344 253h1v1h-1zM345 254h2v1h-2zM347 255h1v1h-1zM348 256h1v1h-1zM349 257h2v1h-2zM351 258h2v1h-2zM353 259h1v1h-1zM354 260h2v1h-2zM356 261h2v1h-2zM358 262h3v1h-3zM361 263h2v1h-2zM363 263h5v1h-5zM368 263h3v1h-3zM371 264h2v1h-2zM373 264h3v1h-3zM376 265h2v1h-2zM378 265h1v1h-1zM379 266h2v1h-2zM381 267h2v1h-2zM383 268h1v1h-1zM384 269h1v1h-1zM385 270h2v1h-2zM387 271h1v1h-1zM388 272h1v1h-1zM389 273h2v1h-2zM391 274h2v1h-2zM393 275h1v1h-1zM394 276h1v1h-1zM395 277h2v1h-2zM397 278h1v1h-1zM398 279h1v1h-1zM399 280h2v1h-2zM401 281h2v1h-2zM403 282h2v1h-2zM405 283h2v1h-2zM407 284h1v1h-1zM408 284h1v1h-1zM409 285h2v1h-2zM411 286h2v1h-2zM413 287h1v1h-1zM414 288h2v1h-2zM416 289h2v1h-2zM418 290h1v1h-1zM419 291h2v1h-2zM421 292h2v1h-2zM423 293h2v1h-2zM425 294h2v1h-2zM427 295h1v1h-1zM428 295h2v1h-2zM430 296h2v1h-2zM432 297h1v1h-1zM433 297h2v1h-2zM435 298h2v1h-2zM437 299h1v1h-1zM438 299h2v1h-2zM440 300h2v1h-2zM442 301h1v1h-1zM443 301h2v1h-2zM445 302h2v1h-2zM447 303h1v1h-1zM448 303h1v1h-1zM449 304h2v1h-2zM451 305h2v1h-2zM453 306h2v1h-2zM455 307h2v1h-2zM457 308h1v1h-1zM458 308h3v1h-3zM461 309h2v1h-2zM463 309h3v1h-3zM466 310h2v1h-2zM468 310h3v1h-3zM471 311h2v1h-2zM473 311h2v1h-2zM475 312h2v1h-2zM477 313h1v1h-1zM478 313h5v1h-5zM483 313h3v1h-3zM486 314h2v1h-2zM488 314h3v1h-3zM491 315h2v1h-2zM493 315h2v1h-2zM495 316h2v1h-2zM497 317h1v1h-1zM498 317h1v1h-1zM499 318h2v1h-2zM501 319h2v1h-2zM503 320h1v1h-1zM504 321h2v1h-2zM506 322h2v1h-2zM508 323h1v1h-1zM509 324h2v1h-2zM511 325h2v1h-2zM513 326h1v1h-1zM514 327h2v1h-2zM516 328h2v1h-2zM518 329h1v1h-1zM519 330h2v1h-2zM521 331h2v1h-2zM523 332h2v1h-2zM525 333h2v1h-2zM527 334h1v1h-1zM528 334h5v1h-5zM533 334h3v1h-3zM536 335h2v1h-2zM538 335h2v1h-2zM540 336h2v1h-2zM542 337h1v1h-1zM543 337h3v1h-3zM546 338h2v1h-2zM548 338h3v1h-3zM551 339h2v1h-2zM553 339h3v1h-3zM556 340h2v1h-2zM558 340h5v1h-5zM563 340h3v1h-3zM566 341h2v1h-2zM568 341h3v1h-3zM571 342h2v1h-2zM573 342h5v1h-5zM578 342h3v1h-3zM581 341h2v1h-2zM583 341h3v1h-3zM586 340h2v1h-2zM588 340h3v1h-3zM591 341h2v1h-2zM593 341h3v1h-3zM596 342h2v1h-2zM598 342h3v1h-3zM601 343h2v1h-2zM603 343h5v1h-5zM608 343h5v1h-5zM613 343h5v1h-5zM618 343h3v1h-3zM621 344h2v1h-2zM623 344h5v1h-5zM628 344h3v1h-3zM631 345h2v1h-2zM633 345h5v1h-5zM638 345h3v1h-3zM641 346h2v1h-2zM643 346h5v1h-5zM648 346h3v1h-3zM651 347h2v1h-2zM653 347h3v1h-3zM656 348h2v1h-2zM658 348h3v1h-3zM661 349h2v1h-2zM663 349h3v1h-3zM666 350h2v1h-2zM668 350h3v1h-3zM671 351h2v1h-2zM673 351h3v1h-3zM676 352h2v1h-2zM678 352h5v1h-5zM683 352h3v1h-3zM686 351h2v1h-2zM688 351h3v1h-3zM691 352h2v1h-2zM693 352h3v1h-3zM696 351h2v1h-2zM698 351h3v1h-3zM701 350h2v1h-2zM703 350h3v1h-3zM706 349h2v1h-2zM708 349h2v1h-2zM710 348h2v1h-2zM712 347h1v1h-1zM713 347h2v1h-2zM715 346h2v1h-2zM717 345h1v1h-1zM718 345h3v1h-3zM721 344h2v1h-2zM723 344h3v1h-3zM726 343h2v1h-2zM728 343h5v1h-5zM733 343h5v1h-5zM738 343h5v1h-5zM743 343h5v1h-5zM748 343h5v1h-5zM753 343h3v1h-3zM756 342h2v1h-2zM758 342h3v1h-3zM761 341h2v1h-2zM763 341h5v1h-5zM768 341h3v1h-3zM771 340h2v1h-2zM773 340h5v1h-5zM778 340h3v1h-3zM781 339h2v1h-2zM783 339h5v1h-5zM788 339h2v1h-2zM790 338h2v1h-2zM792 337h1v1h-1zM793 337h2v1h-2zM795 336h2v1h-2zM797 335h1v1h-1zM798 335h2v1h-2zM800 334h2v1h-2zM802 333h1v1h-1zM803 333h5v1h-5zM808 333h3v1h-3zM811 332h2v1h-2zM813 332h2v1h-2zM815 331h2v1h-2zM817 330h1v1h-1zM818 330h3v1h-3zM821 329h2v1h-2zM823 329h3v1h-3zM826 328h2v1h-2zM828 328h5v1h-5zM833 328h3v1h-3zM836 327h2v1h-2zM838 327h5v1h-5zM843 327h3v1h-3zM846 326h2v1h-2zM848 326h2v1h-2zM850 325h2v1h-2zM852 324h1v1h-1zM853 324h3v1h-3zM856 323h2v1h-2zM858 323h3v1h-3zM861 322h2v1h-2zM863 322h2v1h-2zM865 321h2v1h-2zM867 320h1v1h-1zM868 320h3v1h-3zM871 319h2v1h-2zM873 319h2v1h-2zM875 318h2v1h-2zM877 317h1v1h-1zM878 317h3v1h-3zM881 316h2v1h-2zM883 316h3v1h-3zM886 315h2v1h-2zM888 315h3v1h-3zM891 314h2v1h-2zM893 314h2v1h-2zM895 313h2v1h-2zM897 312h1v1h-1zM898 312h3v1h-3zM901 311h2v1h-2zM903 311h3v1h-3zM906 310h2v1h-2zM908 310h3v1h-3zM911 309h2v1h-2zM913 309h2v1h-2zM915 308h2v1h-2zM917 307h1v1h-1zM918 307h2v1h-2zM920 306h2v1h-2zM922 305h1v1h-1zM923 305h1v1h-1zM924 304h2v1h-2zM926 303h2v1h-2zM928 302h1v1h-1zM929 301h2v1h-2zM931 300h2v1h-2zM933 299h1v1h-1zM934 298h2v1h-2zM936 297h2v1h-2zM938 296h1v1h-1zM939 295h2v1h-2zM941 294h2v1h-2zM943 293h1v1h-1zM944 292h1v1h-1zM945 291h2v1h-2zM947 290h1v1h-1zM948 289h1v1h-1zM949 288h1v1h-1zM950 287h2v1h-2zM952 286h1v1h-1zM953 285h1v1h-1zM954 284h2v1h-2zM956 283h2v1h-2zM958 282h1v1h-1zM959 281h2v1h-2zM961 280h2v1h-2zM963 279h2v1h-2zM965 278h2v1h-2zM967 277h1v1h-1zM968 277h1v1h-1zM969 276h2v1h-2zM971 275h2v1h-2zM973 274h2v1h-2zM975 273h2v1h-2zM977 272h1v1h-1zM978 272h1v1h-1zM979 271h2v1h-2zM981 270h2v1h-2zM983 269h1v1h-1z" fill="#ff8000" shape-rendering="crispEdges"/>
<path d="M63 68h5v1h-5zM68 68h3v1h-3zM71 69h2v1h-2zM73 69h5v1h-5zM78 69h3v1h-3zM81 70h2v1h-2zM83 70h3v1h-3zM86 71h2v1h-2zM88 71h3v1h-3zM91 72h2v1h-2zM93 72h2v1h-2zM95 73h2v1h-2zM97 74h1v1h-1zM98 74h2v1h-2zM100 75h2v1h-2zM102 76h1v1h-1zM103 76h3v1h-3zM106 77h2v1h-2zM108 77h2v1h-2zM110 78h2v1h-2zM112 79h1v1h-1zM113 79h2v1h-2zM115 80h2v1h-2zM117 81h1v1h-1zM118 81h1v1h-1zM119 82h2v1h-2zM121 83h2v1h-2zM123 84h1v1h-1zM124 85h1v1h-1zM125 86h2v1h-2zM127 87h1v1h-1zM128 88h1v1h-1zM129 89h1v1h-1zM130 90h2v1h-2zM132 91h1v1h-1zM133 92h1v1h-1zM134 93h1v1h-1zM135 94h2v1h-2zM137 95h1v1h-1zM138 96h1v1h-1zM139 97h1v1h-1zM140 98h2v1h-2zM142 99h1v1h-1zM143 100h1v1h-1zM144 101h1v1h-1zM145 102h2v1h-2zM147 103h1v1h-1zM148 104h1v1h-1zM149 105h1v1h-1zM150 106h2v1h-2zM152 107h1v1h-1zM153 108h1v1h-1zM154 109h1v1h-1zM155 110h2v1h-2zM157 111h1v1h-1zM158 112h1v1h-1zM159 113h1v2h-1zM160 115h1v1h-1zM161 116h1v2h-1zM162 118h1v2h-1zM163 120h1v1h-1zM164 121h1v2h-1zM165 123h1v1h-1zM166 124h1v2h-1zM167 126h1v2h-1zM168 128h1v1h-1zM169 129h1v2h-1zM170 131h1v1h-1zM171 132h1v2h-1zM172 134h1v2h-1zM173 136h1v1h-1zM174 137h1v2h-1zM175 139h1v1h-1zM176 140h1v2h-1zM177 142h1v2h-1zM178 144h1v1h-1zM179 145h1v1h-1zM180 146h1v1h-1zM181 147h1v1h-1zM182 148h1v1h-1zM183 149h1v1h-1zM184 150h1v1h-1zM185 151h1v1h-1zM186 152h1v1h-1zM187 153h1v1h-1zM188 154h1v1h-1zM189 155h1v1h-1zM190 156h1v1h-1zM191 157h1v2h-1zM192 159h1v1h-1zM193 160h1v1h-1zM194 161h1v1h-1zM195 162h1v1h-1zM196 163h1v1h-1zM197 164h1v1h-1zM198 165h1v1h-1zM199 166h1v1h-1zM200 167h1v1h-1zM201 168h1v1h-1zM202 169h1v1h-1zM203 170h1v1h-1zM204 171h1v1h-1zM205 172h1v1h-1zM206 173h1v2h-1zM207 175h1v1h-1zM208 176h1v1h-1zM209 177h1v1h-1zM210 178h1v1h-1zM211 179h1v1h-1zM212 180h1v1h-1zM213 181h1v1h-1zM214 182h1v1h-1zM215 183h1v1h-1zM216 184h1v2h-1zM217 186h1v1h-1zM218 187h1v1h-1zM219 188h1v1h-1zM220 189h1v1h-1zM221 190h1v1h-1zM222 191h1v1h-1zM223 192h1v1h-1zM224 193h1v1h-1zM225 194h1v1h-1zM226 195h1v2h-1zM227 197h1v1h-1zM228 198h1v1h-1zM229 199h1v1h-1zM230 200h2v1h-2zM232 201h1v1h-1zM233 202h1v1h-1zM234 203h1v1h-1zM235 204h1v1h-1zM236 205h1v1h-1zM237 206h1v1h-1zM238 207h1v1h-1zM239 208h1v1h-1zM240 209h2v1h-2zM242 210h1v1h-1zM243 211h1v1h-1zM244 212h1v1h-1zM245 213h2v1h-2zM247 214h1v1h-1zM248 215h1v1h-1zM249 216h1v1h-1zM250 217h2v1h-2zM252 218h1v1h-1zM253 219h1v1h-1zM254 220h2v1h-2zM256 221h2v1h-2zM258 222h1v1h-1zM259 223h1v1h-1zM260 224h2v1h-2zM262 225h1v1h-1zM263 226h1v1h-1zM264 227h1v1h-1zM265 228h2v1h-2zM267 229h1v1h-1zM268 230h1v1h-1zM269 231h2v1h-2zM271 232h2v1h-2zM273 233h2v1h-2zM275 234h2v1h-2zM277 235h1v1h-1zM278 235h1v1h-1zM279 236h2v1h-2zM281 237h2v1h-2zM283 238h1v1h-1zM284 239h2v1h-2zM286 240h2v1h-2zM288 241h1v1h-1zM289 242h2v1h-2zM291 243h2v1h-2zM293 244h2v1h-2zM295 245h2v1h-2zM297 246h1v1h-1zM298 246h1v1h-1zM299 247h2v1h-2zM301 248h2v1h-2zM303 249h3v1h-3zM306 250h2v1h-2zM308 250h2v1h-2zM310 249h2v1h-2zM312 248h1v1h-1zM313 248h3v1h-3zM316 247h2v1h-2zM318 247h2v1h-2zM320 246h2v1h-2zM322 245h1v1h-1zM323 245h5v1h-5zM328 245h1v1h-1zM329 246h2v1h-2zM331 247h2v1h-2zM333 248h1v1h-1zM334 249h2v1h-2zM336 250h2v1h-2zM338 251h1v1h-1zM339 252h2v1h-2zM341 253h2v1h-2zM343 254h1v1h-1zM344 255h2v1h-2zM346 256h2v1h-2zM348 257h1v1h-1zM349 258h2v1h-2zM351 259h2v1h-2zM353 260h1v1h-1zM354 261h2v1h-2zM356 262h2v1h-2zM358 263h2v1h-2zM360 264h2v1h-2zM362 265h1v1h-1zM363 265h1v1h-1zM364 266h2v1h-2zM366 267h2v1h-2zM368 268h1v1h-1zM369 269h1v1h-1zM370 270h2v1h-2zM372 271h1v1h-1zM373 272h1v1h-1zM374 273h2v1h-2zM376 274h2v1h-2zM378 275h1v1h-1zM379 276h1v1h-1zM380 277h2v1h-2zM382 278h1v1h-1zM383 279h1v1h-1zM384 280h1v1h-1zM385 281h1v1h-1zM386 282h1v1h-1zM387 283h1v1h-1zM388 284h1v1h-1zM389 285h1v1h-1zM390 286h1v1h-1zM391 287h1v1h-1zM392 288h1v1h-1zM393 289h1v1h-1zM394 290h1v1h-1zM395 291h2v1h-2zM397 292h1v1h-1zM398 293h1v1h-1zM399 294h1v1h-1zM400 295h1v1h-1zM401 296h1v1h-1zM402 297h1v1h-1zM403 298h1v1h-1zM404 299h1v1h-1zM405 300h2v1h-2zM407 301h1v1h-1zM408 302h1v1h-1zM409 303h2v1h-2zM411 304h2v1h-2zM413 305h1v1h-1zM414 306h1v1h-1zM415 307h2v1h-2zM417 308h1v1h-1zM418 309h1v1h-1zM419 310h2v1h-2zM421 311h2v1h-2zM423 312h1v1h-1zM424 313h2v1h-2zM426 314h2v1h-2zM428 315h3v1h-3zM431 316h2v1h-2zM433 316h3v1h-3zM436 317h2v1h-2zM438 317h2v1h-2zM440 318h2v1h-2zM442 319h1v1h-1zM443 319h2v1h-2zM445 320h2v1h-2zM447 321h1v1h-1zM448 321h2v1h-2zM450 322h2v1h-2zM452 323h1v1h-1zM453 323h2v1h-2zM455 324h2v1h-2zM457 325h1v1h-1zM458 325h3v1h-3zM461 326h2v1h-2zM463 326h3v1h-3zM466 327h2v1h-2zM468 327h2v1h-2zM470 328h2v1h-2zM472 329h1v1h-1zM473 329h3v1h-3zM476 328h2v1h-2zM478 328h5v1h-5zM483 328h5v1h-5zM488 328h5v1h-5zM493 328h5v1h-5zM498 328h3v1h-3zM501 329h2v1h-2zM503 329h2v1h-2zM505 330h2v1h-2zM507 331h1v1h-1zM508 331h2v1h-2zM510 332h2v1h-2zM512 333h1v1h-1zM513 333h2v1h-2zM515 334h2v1h-2zM517 335h1v1h-1zM518 335h3v1h-3zM521 336h2v1h-2zM523 336h3v1h-3zM526 337h2v1h-2zM528 337h5v1h-5zM533 337h3v1h-3zM536 336h2v1h-2zM538 336h5v1h-5zM543 336h5v1h-5zM548 336h5v1h-5zM553 336h5v1h-5zM558 336h5v1h-5zM563 336h5v1h-5zM568 336h3v1h-3zM571 337h2v1h-2zM573 337h5v1h-5zM578 337h3v1h-3zM581 338h2v1h-2zM583 338h3v1h-3zM586 339h2v1h-2zM588 339h2v1h-2zM590 340h2v1h-2zM592 341h1v1h-1zM593 341h1v1h-1zM594 342h2v1h-2zM596 343h2v1h-2zM598 344h1v1h-1zM599 345h2v1h-2zM601 346h2v1h-2zM603 347h3v1h-3zM606 348h2v1h-2zM608 348h1v1h-1zM609 349h2v1h-2zM611 350h2v1h-2zM613 351h2v1h-2zM615 352h2v1h-2zM617 353h1v1h-1zM618 353h1v1h-1zM619 354h2v1h-2zM621 355h2v1h-2zM623 356h3v1h-3zM626 357h2v1h-2zM628 357h3v1h-3zM631 358h2v1h-2zM633 358h5v1h-5zM638 358h2v1h-2zM640 359h2v1h-2zM642 360h1v1h-1zM643 360h5v1h-5zM648 360h3v1h-3zM651 359h2v1h-2zM653 359h5v1h-5zM658 359h2v1h-2zM660 358h2v1h-2zM662 357h1v1h-1zM663 357h2v1h-2zM665 356h2v1h-2zM667 355h1v1h-1zM668 355h2v1h-2zM670 354h2v1h-2zM672 353h1v1h-1zM673 353h3v1h-3zM676 352h2v1h-2zM678 352h3v1h-3zM681 351h2v1h-2zM683 351h2v1h-2zM685 350h2v1h-2zM687 349h1v1h-1zM688 349h3v1h-3zM691 348h2v1h-2zM693 348h2v1h-2zM695 347h2v1h-2zM697 346h1v1h-1zM698 346h3v1h-3zM701 345h2v1h-2zM703 345h2v1h-2zM705 344h2v1h-2zM707 343h1v1h-1zM708 343h3v1h-3zM711 342h2v1h-2zM713 342h2v1h-2zM715 341h2v1h-2zM717 340h1v1h-1zM718 340h3v1h-3zM721 339h2v1h-2zM723 339h5v1h-5zM728 339h5v1h-5zM733 339h5v1h-5zM738 339h5v1h-5zM743 339h2v1h-2zM745 338h2v1h-2zM747 337h1v1h-1zM748 337h3v1h-3zM751 336h2v1h-2zM753 336h3v1h-3zM756 335h2v1h-2zM758 335h3v1h-3zM761 334h2v1h-2zM763 334h3v1h-3zM766 333h2v1h-2zM768 333h2v1h-2zM770 332h2v1h-2zM772 331h1v1h-1zM773 331h5v1h-5zM778 331h3v1h-3zM781 330h2v1h-2zM783 330h5v1h-5zM788 330h5v1h-5zM793 330h3v1h-3zM796 329h2v1h-2zM798 329h5v1h-5zM803 329h3v1h-3zM806 328h2v1h-2zM808 328h5v1h-5zM813 328h3v1h-3zM816 327h2v1h-2zM818 327h5v1h-5zM823 327h3v1h-3zM826 326h2v1h-2zM828 326h5v1h-5zM833 326h5v1h-5zM838 326h5v1h-5zM843 326h3v1h-3zM846 325h2v1h-2zM848 325h5v1h-5zM853 325h3v1h-3zM856 324h2v1h-2zM858 324h3v1h-3zM861 323h2v1h-2zM863 323h3v1h-3zM866 322h2v1h-2zM868 322h2v1h-2zM870 321h2v1h-2zM872 320h1v1h-1zM873 320h2v1h-2zM875 319h2v1h-2zM877 318h1v1h-1zM878 318h1v1h-1zM879 317h2v1h-2zM881 316h2v1h-2zM883 315h1v1h-1zM884 314h2v1h-2zM886 313h2v1h-2zM888 312h1v1h-1zM889 311h2v1h-2zM891 310h2v1h-2zM893 309h1v1h-1zM894 308h1v1h-1zM895 307h2v1h-2zM897 306h1v1h-1zM898 305h1v1h-1zM899 304h2v1h-2zM901 303h2v1h-2zM903 302h2v1h-2zM905 301h2v1h-2zM907 300h1v1h-1zM908 300h2v1h-2zM910 299h2v1h-2zM912 298h1v1h-1zM913 298h1v1h-1zM914 297h2v1h-2zM916 296h2v1h-2zM918 295h1v1h-1zM919 294h2v1h-2zM921 293h2v1h-2zM923 292h1v1h-1zM924 291h2v1h-2zM926 290h2v1h-2zM928 289h1v1h-1zM929 288h2v1h-2zM931 287h2v1h-2zM933 286h1v1h-1zM934 285h2v1h-2zM936 284h2v1h-2zM938 283h1v1h-1zM939 282h2v1h-2zM941 281h2v1h-2zM943 280h1v1h-1zM944 279h1v1h-1zM945 278h2v1h-2zM947 277h1v1h-1zM948 276h1v1h-1zM949 275h1v1h-1zM950 274h2v1h-2zM952 273h1v1h-1zM953 272h1v1h-1zM954 271h1v1h-1zM955 270h2v1h-2zM957 269h1v1h-1zM958 268h1v1h-1zM959 267h1v1h-1zM960 266h2v1h-2zM962 265h1v1h-1zM963 264h1v1h-1zM964 263h2v1h-2zM966 262h2v1h-2zM968 261h1v1h-1zM969 260h2v1h-2zM971 259h2v1h-2zM973 258h2v1h-2zM975 257h2v1h-2zM977 256h1v1h-1zM978 256h1v1h-1zM979 255h2v1h-2zM981 254h2v1h-2zM983 253h1v1h-1z" fill="#ff00ff" shape-rendering="crispEdges"/>
<path d="M63 69h3v1h-3zM66 70h2v1h-2zM68 70h5v1h-5zM73 70h3v1h-3zM76 71h2v1h-2zM78 71h3v1h-3zM81 72h2v1h-2zM83 72h3v1h-3zM86 73h2v1h-2zM88 73h2v1h-2zM90 74h2v1h-2zM92 75h1v1h-1zM93 75h2v1h-2zM95 76h2v1h-2zM97 77h1v1h-1zM98 77h2v1h-2zM100 78h2v1h-2zM102 79h1v1h-1zM103 79h1v1h-1zM104 80h2v1h-2zM106 81h2v1h-2zM108 82h1v1h-1zM109 83h2v1h-2zM111 84h2v1h-2zM113 85h1v1h-1zM114 86h2v1h-2zM116 87h2v1h-2zM118 88h1v1h-1zM119 89h1v1h-1zM120 90h2v1h-2zM122 91h1v1h-1zM123 92h1v1h-1zM124 93h1v1h-1zM125 94h1v1h-1zM126 95h1v1h-1zM127 96h1v1h-1zM128 97h1v1h-1zM129 98h1v2h-1zM130 100h1v1h-1zM131 101h1v1h-1zM132 102h1v2h-1zM133 104h1v1h-1zM134 105h1v1h-1zM135 106h1v1h-1zM136 107h1v2h-1zM137 109h1v1h-1zM138 110h1v1h-1zM139 111h1v1h-1zM140 112h1v1h-1zM141 113h1v2h-1zM142 115h1v1h-1zM143 116h1v1h-1zM144 117h1v1h-1zM145 118h1v1h-1zM146 119h1v1h-1zM147 120h1v1h-1zM148 121h1v1h-1zM149 122h1v1h-1zM150 123h1v1h-1zM151 124h1v1h-1zM152 125h1v1h-1zM153 126h1v1h-1zM154 127h1v2h-1zM155 129h1v1h-1zM156 130h1v2h-1zM157 132h1v2h-1zM158 134h1v1h-1zM159 135h1v2h-1zM160 137h1v2h-1zM161 139h1v2h-1zM162 141h1v2h-1zM163 143h1v1h-1zM163 144h1v2h-1zM164 146h1v2h-1zM165 148h1v2h-1zM166 150h1v3h-1zM167 153h1v2h-1zM168 155h1v1h-1zM168 156h1v2h-1zM169 158h1v2h-1zM170 160h1v2h-1zM171 162h1v2h-1zM172 164h1v2h-1zM173 166h1v1h-1zM173 167h1v2h-1zM174 169h1v2h-1zM175 171h1v2h-1zM176 173h1v3h-1zM177 176h1v2h-1zM178 178h1v1h-1zM178 179h1v1h-1zM179 180h1v2h-1zM180 182h1v1h-1zM181 183h1v2h-1zM182 185h1v2h-1zM183 187h1v1h-1zM184 188h1v1h-1zM185 189h1v1h-1zM186 190h1v2h-1zM187 192h1v1h-1zM188 193h1v1h-1zM189 194h1v1h-1zM190 195h1v1h-1zM191 196h1v2h-1zM192 198h1v1h-1zM193 199h1v1h-1zM194 200h1v1h-1zM195 201h1v1h-1zM196 202h1v2h-1zM197 204h1v1h-1zM198 205h1v1h-1zM199 206h1v1h-1zM200 207h1v1h-1zM201 208h1v2h-1zM202 210h1v1h-1zM203 211h1v1h-1zM204 212h1v1h-1zM205 213h1v1h-1zM206 214h1v2h-1zM207 216h1v1h-1zM208 217h1v1h-1zM209 218h1v1h-1zM210 219h1v1h-1zM211 220h1v2h-1zM212 222h1v1h-1zM213 223h1v1h-1zM214 224h1v1h-1zM215 225h1v1h-1zM216 226h1v1h-1zM217 227h1v1h-1zM218 228h1v1h-1zM219 229h1v1h-1zM220 230h2v1h-2zM222 231h1v1h-1zM223 232h1v1h-1zM224 233h2v1h-2zM226 234h2v1h-2zM228 235h2v1h-2zM230 236h2v1h-2zM232 237h1v1h-1zM233 237h2v1h-2zM235 238h2v1h-2zM237 239h1v1h-1zM238 239h1v1h-1zM239 240h2v1h-2zM241 241h2v1h-2zM243 242h2v1h-2zM245 243h2v1h-2zM247 244h1v1h-1zM248 244h2v1h-2zM250 245h2v1h-2zM252 246h1v1h-1zM253 246h5v1h-5zM258 246h2v1h-2zM260 245h2v1h-2zM262 244h1v1h-1zM263 244h1v1h-1zM264 243h2v1h-2zM266 242h2v1h-2zM268 241h1v1h-1zM269 240h2v1h-2zM271 239h2v1h-2zM273 238h1v1h-1zM274 237h2v1h-2zM276 236h2v1h-2zM278 235h2v1h-2zM280 236h2v1h-2zM282 237h1v1h-1zM283 237h1v1h-1zM284 238h2v1h-2zM286 239h2v1h-2zM288 240h2v1h-2zM290 241h2v1h-2zM292 242h1v1h-1zM293 242h3v1h-3zM296 243h2v1h-2zM298 243h3v1h-3zM301 244h2v1h-2zM303 244h5v1h-5zM308 244h3v1h-3zM311 245h2v1h-2zM313 245h3v1h-3zM316 246h2v1h-2zM318 246h3v1h-3zM321 247h2v1h-2zM323 247h1v1h-1zM324 248h2v1h-2zM326 249h2v1h-2zM328 250h1v1h-1zM329 251h1v1h-1zM330 252h1v1h-1zM331 253h1v1h-1zM332 254h1v1h-1zM333 255h1v1h-1zM334 256h1v1h-1zM335 257h2v1h-2zM337 258h1v1h-1zM338 259h1v1h-1zM339 260h1v1h-1zM340 261h2v1h-2zM342 262h1v1h-1zM343 263h1v1h-1zM344 264h1v1h-1zM345 265h2v1h-2zM347 266h1v1h-1zM348 267h1v1h-1zM349 268h1v1h-1zM350 269h1v1h-1zM351 270h1v2h-1zM352 272h1v1h-1zM353 273h1v1h-1zM354 274h1v1h-1zM355 275h1v1h-1zM356 276h1v1h-1zM357 277h1v1h-1zM358 278h1v1h-1zM359 279h1v1h-1zM360 280h2v1h-2zM362 281h1v1h-1zM363 282h1v1h-1zM364 283h1v1h-1zM365 284h2v1h-2zM367 285h1v1h-1zM368 286h1v1h-1zM369 287h1v1h-1zM370 288h2v1h-2zM372 289h1v1h-1zM373 290h1v1h-1zM374 291h1v1h-1zM375 292h1v1h-1zM376 293h1v1h-1zM377 294h1v1h-1zM378 295h1v1h-1zM379 296h2v1h-2zM381 297h2v1h-2zM383 298h1v1h-1zM384 299h1v1h-1zM385 300h1v1h-1zM386 301h1v1h-1zM387 302h1v1h-1zM388 303h1v1h-1zM389 304h1v1h-1zM390 305h1v1h-1zM391 306h1v1h-1zM392 307h1v1h-1zM393 308h1v1h-1zM394 309h1v1h-1zM395 310h1v1h-1zM396 311h1v2h-1zM397 313h1v1h-1zM398 314h1v1h-1zM399 315h1v1h-1zM400 316h1v1h-1zM401 317h1v2h-1zM402 319h1v1h-1zM403 320h1v1h-1zM404 321h1v1h-1zM405 322h2v1h-2zM407 323h1v1h-1zM408 324h1v1h-1zM409 325h1v1h-1zM410 326h1v1h-1zM411 327h1v1h-1zM412 328h1v1h-1zM413 329h1v1h-1zM414 330h1v1h-1zM415 331h1v1h-1zM416 332h1v1h-1zM417 333h1v1h-1zM418 334h1v1h-1zM419 335h1v1h-1zM420 336h2v1h-2zM422 337h1v1h-1zM423 338h2v1h-2zM425 339h2v1h-2zM427 340h1v1h-1zM428 340h3v1h-3zM431 339h2v1h-2zM433 339h3v1h-3zM436 340h2v1h-2zM438 340h3v1h-3zM441 339h2v1h-2zM443 339h5v1h-5zM448 339h5v1h-5zM453 339h3v1h-3zM456 338h2v1h-2zM458 338h3v1h-3zM461 337h2v1h-2zM463 337h2v1h-2zM465 336h2v1h-2zM467 335h1v1h-1zM468 335h2v1h-2zM470 334h2v1h-2zM472 333h1v1h-1zM473 333h1v1h-1zM474 332h2v1h-2zM476 331h2v1h-2zM478 330h2v1h-2zM480 329h2v1h-2zM482 328h1v1h-1zM483 328h1v1h-1zM484 327h2v1h-2zM486 326h2v1h-2zM488 325h1v1h-1zM489 324h2v1h-2zM491 323h2v1h-2zM493 322h3v1h-3zM496 321h2v1h-2zM498 321h3v1h-3zM501 320h2v1h-2zM503 320h3v1h-3zM506 321h2v1h-2zM508 321h3v1h-3zM511 322h2v1h-2zM513 322h2v1h-2zM515 323h2v1h-2zM517 324h1v1h-1zM518 324h2v1h-2zM520 325h2v1h-2zM522 326h1v1h-1zM523 326h2v1h-2zM525 327h2v1h-2zM527 328h1v1h-1zM528 328h3v1h-3zM531 329h2v1h-2zM533 329h2v1h-2zM535 330h2v1h-2zM537 331h1v1h-1zM538 331h1v1h-1zM539 332h2v1h-2zM541 333h2v1h-2zM543 334h2v1h-2zM545 335h2v1h-2zM547 336h1v1h-1zM548 336h1v1h-1zM549 337h2v1h-2zM551 338h2v1h-2zM553 339h2v1h-2zM555 340h2v1h-2zM557 341h1v1h-1zM558 341h1v1h-1zM559 342h2v1h-2zM561 343h2v1h-2zM563 344h1v1h-1zM564 345h1v1h-1zM565 346h2v1h-2zM567 347h1v1h-1zM568 348h1v1h-1zM569 349h2v1h-2zM571 350h2v1h-2zM573 351h2v1h-2zM575 352h2v1h-2zM577 353h1v1h-1zM578 353h3v1h-3zM581 354h2v1h-2zM583 354h2v1h-2zM585 355h2v1h-2zM587 356h1v1h-1zM588 356h1v1h-1zM589 357h1v1h-1zM590 358h2v1h-2zM592 359h1v1h-1zM593 360h1v1h-1zM594 361h2v1h-2zM596 362h2v1h-2zM598 363h2v1h-2zM600 364h2v1h-2zM602 365h1v1h-1zM603 365h5v1h-5zM608 365h3v1h-3zM611 364h2v1h-2zM613 364h3v1h-3zM616 363h2v1h-2zM618 363h3v1h-3zM621 362h2v1h-2zM623 362h3v1h-3zM626 361h2v1h-2zM628 361h3v1h-3zM631 360h2v1h-2zM633 360h3v1h-3zM636 359h2v1h-2zM638 359h3v1h-3zM641 358h2v1h-2zM643 358h3v1h-3zM646 357h2v1h-2zM648 357h3v1h-3zM651 356h2v1h-2zM653 356h3v1h-3zM656 355h2v1h-2zM658 355h2v1h-2zM660 354h2v1h-2zM662 353h1v1h-1zM663 353h3v1h-3zM666 352h2v1h-2zM668 352h3v1h-3zM671 351h2v1h-2zM673 351h3v1h-3zM676 350h2v1h-2zM678 350h3v1h-3zM681 349h2v1h-2zM683 349h2v1h-2zM685 348h2v1h-2zM687 347h1v1h-1zM688 347h1v1h-1zM689 346h2v1h-2zM691 345h2v1h-2zM693 344h1v1h-1zM694 343h1v1h-1zM695 342h2v1h-2zM697 341h1v1h-1zM698 340h1v1h-1zM699 339h1v1h-1zM700 338h2v1h-2zM702 337h1v1h-1zM703 336h1v1h-1zM704 335h2v1h-2zM706 334h2v1h-2zM708 333h2v1h-2zM710 332h2v1h-2zM712 331h1v1h-1zM713 331h1v1h-1zM714 330h2v1h-2zM716 329h2v1h-2zM718 328h1v1h-1zM719 327h2v1h-2zM721 326h2v1h-2zM723 325h5v1h-5zM728 325h5v1h-5zM733 325h2v1h-2zM735 326h2v1h-2zM737 327h1v1h-1zM738 327h3v1h-3zM741 328h2v1h-2zM743 328h2v1h-2zM745 329h2v1h-2zM747 330h1v1h-1zM748 330h3v1h-3zM751 331h2v1h-2zM753 331h3v1h-3zM756 330h2v1h-2zM758 330h3v1h-3zM761 329h2v1h-2zM763 329h5v1h-5zM768 329h5v1h-5zM773 329h5v1h-5zM778 329h5v1h-5zM783 329h3v1h-3zM786 330h2v1h-2zM788 330h5v1h-5zM793 330h5v1h-5zM798 330h3v1h-3zM801 331h2v1h-2zM803 331h3v1h-3zM806 332h2v1h-2zM808 332h3v1h-3zM811 333h2v1h-2zM813 333h5v1h-5zM818 333h5v1h-5zM823 333h2v1h-2zM825 332h2v1h-2zM827 331h1v1h-1zM828 331h3v1h-3zM831 330h2v1h-2zM833 330h2v1h-2zM835 329h2v1h-2zM837 328h1v1h-1zM838 328h1v1h-1zM839 327h2v1h-2zM841 326h2v1h-2zM843 325h1v1h-1zM844 324h2v1h-2zM846 323h2v1h-2zM848 322h1v1h-1zM849 321h1v1h-1zM850 320h2v1h-2zM852 319h1v1h-1zM853 318h2v1h-2zM855 317h2v1h-2zM857 316h1v1h-1zM858 316h2v1h-2zM860 315h2v1h-2zM862 314h1v1h-1zM863 314h1v1h-1zM864 313h2v1h-2zM866 312h2v1h-2zM868 311h2v1h-2zM870 310h2v1h-2zM872 309h1v1h-1zM873 309h1v1h-1zM874 308h2v1h-2zM876 307h2v1h-2zM878 306h1v1h-1zM879 305h2v1h-2zM881 304h2v1h-2zM883 303h1v1h-1zM884 302h2v1h-2zM886 301h2v1h-2zM888 300h1v1h-1zM889 299h2v1h-2zM891 298h2v1h-2zM893 297h1v1h-1zM894 296h2v1h-2zM896 295h2v1h-2zM898 294h1v1h-1zM899 293h2v1h-2zM901 292h2v1h-2zM903 291h1v1h-1zM904 290h1v1h-1zM905 289h2v1h-2zM907 288h1v1h-1zM908 287h1v1h-1zM909 286h2v1h-2zM911 285h2v1h-2zM913 284h1v1h-1zM914 283h2v1h-2zM916 282h2v1h-2zM918 281h1v1h-1zM919 280h1v1h-1zM920 279h2v1h-2zM922 278h1v1h-1zM923 277h1v1h-1zM924 276h1v1h-1zM925 275h2v1h-2zM927 274h1v1h-1zM928 273h1v1h-1zM929 272h1v1h-1zM930 271h2v1h-2zM932 270h1v1h-1zM933 269h1v1h-1zM934 268h1v1h-1zM935 267h2v1h-2zM937 266h1v1h-1zM938 265h1v1h-1zM939 264h1v1h-1zM940 263h1v1h-1zM941 262h1v1h-1zM942 261h1v1h-1zM943 260h1v1h-1zM944 259h1v1h-1zM945 258h2v1h-2zM947 257h1v1h-1zM948 256h1v1h-1zM949 255h1v1h-1zM950 254h2v1h-2zM952 253h1v1h-1zM953 252h1v1h-1zM954 251h1v1h-1zM955 250h2v1h-2zM957 249h1v1h-1zM958 248h1v1h-1zM959 247h2v1h-2zM961 246h2v1h-2zM963 245h1v1h-1zM964 244h2v1h-2zM966 243h2v1h-2zM968 242h2v1h-2zM970 241h2v1h-2zM972 240h1v1h-1zM973 240h2v1h-2zM975 239h2v1h-2zM977 238h1v1h-1zM978 238h2v1h-2zM980 237h2v1h-2zM982 236h1v1h-1zM983 236h1v1h-1z" fill="#00008b" shape-rendering="crispEdges"/>
<path d="M63 71h5v1h-5zM68 71h3v1h-3zM71 72h2v1h-2zM73 72h5v1h-5zM78 72h2v1h-2zM80 73h2v1h-2zM82 74h1v1h-1zM83 74h1v1h-1zM84 75h2v1h-2zM86 76h2v1h-2zM88 77h1v1h-1zM89 78h1v1h-1zM90 79h2v1h-2zM92 80h1v1h-1zM93 81h1v1h-1zM94 82h1v1h-1zM95 83h2v1h-2zM97 84h1v1h-1zM98 85h1v1h-1zM99 86h1v1h-1zM100 87h2v1h-2zM102 88h1v1h-1zM103 89h1v1h-1zM104 90h1v1h-1zM105 91h1v1h-1zM106 92h1v1h-1zM107 93h1v1h-1zM108 94h1v1h-1zM109 95h1v1h-1zM110 96h1v1h-1zM111 97h1v1h-1zM112 98h1v1h-1zM113 99h1v1h-1zM114 100h1v1h-1zM115 101h1v1h-1zM116 102h1v1h-1zM117 103h1v1h-1zM118 104h1v1h-1zM119 105h1v2h-1zM120 107h1v1h-1zM121 108h1v2h-1zM122 110h1v2h-1zM123 112h1v1h-1zM124 113h1v2h-1zM125 115h1v2h-1zM126 117h1v2h-1zM127 119h1v2h-1zM128 121h1v1h-1zM128 122h1v2h-1zM129 124h1v2h-1zM130 126h1v2h-1zM131 128h1v2h-1zM132 130h1v2h-1zM133 132h1v1h-1zM133 133h1v1h-1zM134 134h1v2h-1zM135 136h1v2h-1zM136 138h1v2h-1zM137 140h1v2h-1zM138 142h1v1h-1zM139 143h1v2h-1zM140 145h1v2h-1zM141 147h1v2h-1zM142 149h1v2h-1zM143 151h1v1h-1zM144 152h1v2h-1zM145 154h1v1h-1zM146 155h1v1h-1zM147 156h1v2h-1zM148 158h1v1h-1zM149 159h1v1h-1zM150 160h1v1h-1zM151 161h1v2h-1zM152 163h1v1h-1zM153 164h1v1h-1zM154 165h1v2h-1zM155 167h1v2h-1zM156 169h1v2h-1zM157 171h1v2h-1zM158 173h1v2h-1zM159 175h1v4h-1zM160 179h1v3h-1zM161 182h1v3h-1zM162 185h1v4h-1zM163 189h1v1h-1zM163 190h1v2h-1zM164 192h1v4h-1zM165 196h1v3h-1zM166 199h1v4h-1zM167 203h1v4h-1zM168 207h1v1h-1zM168 208h1v2h-1zM169 210h1v3h-1zM170 213h1v2h-1zM171 215h1v3h-1zM172 218h1v3h-1zM173 221h1v1h-1zM173 222h1v2h-1zM174 224h1v3h-1zM175 227h1v2h-1zM176 229h1v3h-1zM177 232h1v3h-1zM178 235h1v1h-1zM178 236h1v1h-1zM179 237h1v1h-1zM180 238h2v1h-2zM182 239h1v1h-1zM183 240h1v1h-1zM184 241h2v1h-2zM186 242h2v1h-2zM188 243h1v1h-1zM189 244h1v1h-1zM190 245h2v1h-2zM192 246h1v1h-1zM193 247h1v1h-1zM194 248h1v1h-1zM195 249h1v1h-1zM196 250h1v1h-1zM197 251h1v1h-1zM198 252h1v1h-1zM199 253h1v1h-1zM200 254h1v1h-1zM201 255h1v2h-1zM202 257h1v1h-1zM203 258h1v1h-1zM204 259h2v1h-2zM206 260h2v1h-2zM208 261h1v1h-1zM209 260h1v1h-1zM210 259h1v1h-1zM211 258h1v1h-1zM212 257h1v1h-1zM213 256h1v1h-1zM214 254h1v2h-1zM215 253h1v1h-1zM216 251h1v2h-1zM217 249h1v2h-1zM218 248h1v1h-1zM219 246h1v2h-1zM220 245h1v1h-1zM221 244h1v1h-1zM222 242h1v2h-1zM223 241h1v1h-1zM224 239h1v2h-1zM225 238h1v1h-1zM226 237h1v1h-1zM227 235h1v2h-1zM228 234h5v1h-5zM233 234h3v1h-3zM236 235h2v1h-2zM238 235h3v1h-3zM241 236h2v1h-2zM243 236h5v1h-5zM248 236h2v1h-2zM250 235h2v1h-2zM252 234h1v1h-1zM253 234h2v1h-2zM255 233h2v1h-2zM257 232h1v1h-1zM258 232h5v1h-5zM263 232h2v1h-2zM265 233h2v1h-2zM267 234h1v1h-1zM268 234h5v1h-5zM273 234h3v1h-3zM276 235h2v1h-2zM278 235h1v1h-1zM279 236h1v1h-1zM280 237h1v1h-1zM281 238h1v2h-1zM282 240h1v1h-1zM283 241h1v1h-1zM284 242h1v1h-1zM285 243h2v1h-2zM287 244h1v1h-1zM288 245h1v1h-1zM289 246h1v1h-1zM290 247h2v1h-2zM292 248h1v1h-1zM293 249h2v1h-2zM295 250h2v1h-2zM297 251h1v1h-1zM298 251h1v1h-1zM299 252h2v1h-2zM301 253h2v1h-2zM303 254h1v1h-1zM304 255h2v1h-2zM306 256h2v1h-2zM308 257h5v1h-5zM313 257h3v1h-3zM316 258h2v1h-2zM318 258h2v1h-2zM320 259h2v1h-2zM322 260h1v1h-1zM323 260h1v1h-1zM324 261h1v1h-1zM325 262h1v1h-1zM326 263h1v1h-1zM327 264h1v1h-1zM328 265h1v1h-1zM329 266h1v1h-1zM330 267h2v1h-2zM332 268h1v1h-1zM333 269h1v1h-1zM334 270h1v1h-1zM335 271h2v1h-2zM337 272h1v1h-1zM338 273h1v1h-1zM339 274h1v1h-1zM340 275h1v1h-1zM341 276h1v1h-1zM342 277h1v1h-1zM343 278h1v1h-1zM344 279h1v1h-1zM345 280h1v1h-1zM346 281h1v2h-1zM347 283h1v1h-1zM348 284h1v1h-1zM349 285h1v2h-1zM350 287h1v1h-1zM351 288h1v1h-1zM352 289h1v2h-1zM353 291h1v1h-1zM354 292h1v2h-1zM355 294h1v1h-1zM356 295h1v2h-1zM357 297h1v2h-1zM358 299h1v1h-1zM359 300h1v2h-1zM360 302h1v1h-1zM361 303h1v1h-1zM362 304h1v2h-1zM363 306h1v1h-1zM364 307h1v2h-1zM365 309h1v1h-1zM366 310h1v1h-1zM367 311h1v2h-1zM368 313h1v1h-1zM369 314h1v2h-1zM370 316h1v1h-1zM371 317h1v2h-1zM372 319h1v2h-1zM373 321h1v1h-1zM374 322h2v1h-2zM376 323h2v1h-2zM378 324h1v1h-1zM379 325h2v1h-2zM381 326h2v1h-2zM383 327h1v1h-1zM384 328h1v1h-1zM385 329h1v1h-1zM386 330h1v2h-1zM387 332h1v1h-1zM388 333h1v1h-1zM389 334h1v1h-1zM390 335h1v1h-1zM391 336h1v2h-1zM392 338h1v1h-1zM393 339h1v1h-1zM394 340h1v1h-1zM395 341h1v1h-1zM396 342h1v1h-1zM397 343h1v1h-1zM398 344h1v1h-1zM399 345h1v1h-1zM400 346h2v1h-2zM402 347h1v1h-1zM403 348h2v1h-2zM405 349h2v1h-2zM407 350h1v1h-1zM408 350h1v1h-1zM409 351h2v1h-2zM411 352h2v1h-2zM413 353h1v1h-1zM414 354h2v1h-2zM416 355h2v1h-2zM418 356h5v1h-5zM423 356h3v1h-3zM426 355h2v1h-2zM428 355h1v1h-1zM429 354h1v1h-1zM430 353h2v1h-2zM432 352h1v1h-1zM433 351h1v1h-1zM434 350h1v1h-1zM435 349h1v1h-1zM436 348h1v1h-1zM437 347h1v1h-1zM438 346h1v1h-1zM439 344h1v2h-1zM440 343h1v1h-1zM441 342h1v1h-1zM442 340h1v2h-1zM443 339h1v1h-1zM444 338h1v1h-1zM445 337h2v1h-2zM447 336h1v1h-1zM448 335h1v1h-1zM449 334h1v1h-1zM450 333h1v1h-1zM451 332h1v1h-1zM452 331h1v1h-1zM453 330h1v1h-1zM454 329h1v1h-1zM455 328h2v1h-2zM457 327h1v1h-1zM458 326h1v1h-1zM459 325h1v1h-1zM460 324h1v1h-1zM461 322h1v2h-1zM462 321h1v1h-1zM463 320h1v1h-1zM464 319h1v1h-1zM465 318h1v1h-1zM466 316h1v2h-1zM467 315h1v1h-1zM468 314h1v1h-1zM469 313h1v1h-1zM470 312h1v1h-1zM471 311h1v1h-1zM472 310h1v1h-1zM473 309h1v1h-1zM474 308h2v1h-2zM476 307h2v1h-2zM478 306h3v1h-3zM481 305h2v1h-2zM483 305h5v1h-5zM488 305h3v1h-3zM491 304h2v1h-2zM493 304h2v1h-2zM495 305h2v1h-2zM497 306h1v1h-1zM498 306h1v1h-1zM499 307h1v1h-1zM500 308h1v1h-1zM501 309h1v1h-1zM502 310h1v1h-1zM503 311h1v1h-1zM504 312h1v1h-1zM505 313h1v1h-1zM506 314h1v1h-1zM507 315h1v1h-1zM508 316h1v1h-1zM509 317h1v2h-1zM510 319h1v2h-1zM511 321h1v2h-1zM512 323h1v2h-1zM513 325h1v1h-1zM514 326h1v2h-1zM515 328h1v2h-1zM516 330h1v2h-1zM517 332h1v2h-1zM518 334h1v1h-1zM518 335h1v1h-1zM519 336h1v2h-1zM520 338h1v1h-1zM521 339h1v2h-1zM522 341h1v2h-1zM523 343h1v1h-1zM524 344h1v1h-1zM525 345h1v1h-1zM526 346h1v2h-1zM527 348h1v1h-1zM528 349h1v1h-1zM529 350h1v1h-1zM530 351h2v1h-2zM532 352h1v1h-1zM533 353h1v1h-1zM534 354h1v1h-1zM535 355h2v1h-2zM537 356h1v1h-1zM538 357h1v1h-1zM539 358h1v1h-1zM540 359h1v1h-1zM541 360h1v2h-1zM542 362h1v1h-1zM543 363h1v1h-1zM544 364h2v1h-2zM546 365h2v1h-2zM548 366h5v1h-5zM553 366h3v1h-3zM556 367h2v1h-2zM558 367h1v1h-1zM559 366h2v1h-2zM561 365h2v1h-2zM563 364h1v1h-1zM564 363h1v1h-1zM565 362h2v1h-2zM567 361h1v1h-1zM568 360h3v1h-3zM571 359h2v1h-2zM573 359h1v1h-1zM574 358h2v1h-2zM576 357h2v1h-2zM578 356h3v1h-3zM581 355h2v1h-2zM583 355h3v1h-3zM586 354h2v1h-2zM588 354h2v1h-2zM590 355h2v1h-2zM592 356h1v1h-1zM593 356h1v1h-1zM594 357h1v1h-1zM595 358h2v1h-2zM597 359h1v1h-1zM598 360h1v1h-1zM599 361h1v1h-1zM600 362h2v1h-2zM602 363h1v1h-1zM603 364h3v1h-3zM606 363h2v1h-2zM608 363h5v1h-5zM613 363h2v1h-2zM615 364h2v1h-2zM617 365h1v1h-1zM618 365h5v1h-5zM623 365h5v1h-5zM628 365h3v1h-3zM631 366h2v1h-2zM633 366h2v1h-2zM635 365h2v1h-2zM637 364h1v1h-1zM638 364h1v1h-1zM639 363h1v1h-1zM640 362h2v1h-2zM642 361h1v1h-1zM643 360h1v1h-1zM644 358h1v2h-1zM645 357h1v1h-1zM646 356h1v1h-1zM647 354h1v2h-1zM648 353h1v1h-1zM649 352h1v1h-1zM650 351h1v1h-1zM651 350h1v1h-1zM652 349h1v1h-1zM653 348h3v1h-3zM656 347h2v1h-2zM658 347h1v1h-1zM659 346h1v1h-1zM660 345h2v1h-2zM662 344h1v1h-1zM663 343h1v1h-1zM664 342h2v1h-2zM666 341h2v1h-2zM668 340h1v1h-1zM669 339h2v1h-2zM671 338h2v1h-2zM673 337h2v1h-2zM675 336h2v1h-2zM677 335h1v1h-1zM678 335h2v1h-2zM680 334h2v1h-2zM682 333h1v1h-1zM683 333h2v1h-2zM685 332h2v1h-2zM687 331h1v1h-1zM688 331h1v1h-1zM689 330h2v1h-2zM691 329h2v1h-2zM693 328h2v1h-2zM695 327h2v1h-2zM697 326h1v1h-1zM698 326h1v1h-1zM699 325h2v1h-2zM701 324h2v1h-2zM703 323h1v1h-1zM704 322h2v1h-2zM706 321h2v1h-2zM708 320h2v1h-2zM710 319h2v1h-2zM712 318h1v1h-1zM713 318h2v1h-2zM715 317h2v1h-2zM717 316h1v1h-1zM718 316h2v1h-2zM720 315h2v1h-2zM722 314h1v1h-1zM723 314h3v1h-3zM726 315h2v1h-2zM728 315h2v1h-2zM730 316h2v1h-2zM732 317h1v1h-1zM733 317h1v1h-1zM734 318h1v1h-1zM735 319h1v1h-1zM736 320h1v2h-1zM737 322h1v1h-1zM738 323h1v1h-1zM739 324h1v1h-1zM740 325h1v1h-1zM741 326h1v2h-1zM742 328h1v1h-1zM743 329h1v1h-1zM744 330h1v1h-1zM745 331h2v1h-2zM747 332h1v1h-1zM748 333h1v1h-1zM749 334h1v1h-1zM750 335h1v1h-1zM751 336h1v1h-1zM752 337h1v1h-1zM753 338h2v1h-2zM755 339h2v1h-2zM757 340h1v1h-1zM758 340h3v1h-3zM761 341h2v1h-2zM763 341h2v1h-2zM765 342h2v1h-2zM767 343h1v1h-1zM768 343h3v1h-3zM771 344h2v1h-2zM773 344h3v1h-3zM776 343h2v1h-2zM778 343h2v1h-2zM780 342h2v1h-2zM782 341h1v1h-1zM783 341h1v1h-1zM784 340h1v1h-1zM785 339h2v1h-2zM787 338h1v1h-1zM788 337h1v1h-1zM789 336h1v1h-1zM790 335h1v1h-1zM791 334h1v1h-1zM792 333h1v1h-1zM793 332h1v1h-1zM794 331h1v1h-1zM795 330h2v1h-2zM797 329h1v1h-1zM798 328h1v1h-1zM799 327h2v1h-2zM801 326h2v1h-2zM803 325h5v1h-5zM808 325h5v1h-5zM813 325h2v1h-2zM815 324h2v1h-2zM817 323h1v1h-1zM818 323h3v1h-3zM821 322h2v1h-2zM823 322h2v1h-2zM825 321h2v1h-2zM827 320h1v1h-1zM828 320h5v1h-5zM833 320h3v1h-3zM836 319h2v1h-2zM838 319h3v1h-3zM841 318h2v1h-2zM843 318h1v1h-1zM844 317h2v1h-2zM846 316h2v1h-2zM848 315h1v1h-1zM849 314h2v1h-2zM851 313h2v1h-2zM853 312h1v1h-1zM854 311h1v1h-1zM855 310h1v1h-1zM856 309h1v1h-1zM857 308h1v1h-1zM858 307h1v1h-1zM859 306h1v1h-1zM860 305h2v1h-2zM862 304h1v1h-1zM863 303h1v1h-1zM864 302h1v1h-1zM865 301h2v1h-2zM867 300h1v1h-1zM868 299h1v1h-1zM869 298h1v1h-1zM870 297h2v1h-2zM872 296h1v1h-1zM873 295h1v1h-1zM874 294h2v1h-2zM876 293h2v1h-2zM878 292h1v1h-1zM879 291h1v1h-1zM880 290h1v1h-1zM881 288h1v2h-1zM882 287h1v1h-1zM883 286h1v1h-1zM884 285h1v1h-1zM885 284h1v1h-1zM886 283h1v1h-1zM887 282h1v1h-1zM888 281h1v1h-1zM889 280h1v1h-1zM890 279h1v1h-1zM891 278h1v1h-1zM892 277h1v1h-1zM893 276h1v1h-1zM894 275h2v1h-2zM896 274h2v1h-2zM898 273h1v1h-1zM899 272h1v1h-1zM900 271h2v1h-2zM902 270h1v1h-1zM903 269h3v1h-3zM906 268h2v1h-2zM908 268h2v1h-2zM910 267h2v1h-2zM912 266h1v1h-1zM913 266h1v1h-1zM914 265h2v1h-2zM916 264h2v1h-2zM918 263h1v1h-1zM919 262h1v1h-1zM920 261h2v1h-2zM922 260h1v1h-1zM923 259h1v1h-1zM924 258h1v1h-1zM925 257h2v1h-2zM927 256h1v1h-1zM928 255h1v1h-1zM929 254h2v1h-2zM931 253h2v1h-2zM933 252h1v1h-1zM934 251h1v1h-1zM935 250h2v1h-2zM937 249h1v1h-1zM938 248h1v1h-1zM939 247h1v1h-1zM940 246h2v1h-2zM942 245h1v1h-1zM943 244h1v1h-1zM944 243h1v1h-1zM945 242h2v1h-2zM947 241h1v1h-1zM948 240h1v1h-1zM949 239h1v1h-1zM950 238h1v1h-1zM951 237h1v1h-1zM952 236h1v1h-1zM953 235h1v1h-1zM954 234h1v1h-1zM955 233h1v1h-1zM956 231h1v2h-1zM957 230h1v1h-1zM958 229h1v1h-1zM959 228h1v1h-1zM960 227h1v1h-1zM961 226h1v1h-1zM962 225h1v1h-1zM963 224h1v1h-1zM964 223h2v1h-2zM966 222h2v1h-2zM968 221h3v1h-3zM971 220h2v1h-2zM973 220h5v1h-5zM978 220h3v1h-3zM981 221h2v1h-2zM983 221h1v1h-1z" fill="#000000" shape-rendering="crispEdges"/>
<path d="M63 544h1v1h-1zM64 545h2v1h-2zM66 546h2v1h-2zM68 547h1v1h-1zM69 546h2v1h-2zM71 545h2v1h-2zM73 544h5v1h-5zM78 544h1v1h-1zM79 545h1v2h-1zM80 547h1v2h-1zM81 549h1v2h-1zM82 551h1v2h-1zM83 553h1v1h-1zM84 554h2v1h-2zM86 555h2v1h-2zM88 556h2v1h-2zM90 557h2v1h-2zM92 558h1v1h-1zM93 558h1v1h-1zM94 559h2v1h-2zM96 560h2v1h-2zM98 561h3v1h-3zM101 562h2v1h-2zM103 562h2v1h-2zM105 563h2v1h-2zM107 564h1v1h-1zM108 564h5v1h-5zM113 564h1v1h-1zM114 565h2v1h-2zM116 566h2v1h-2zM118 567h1v1h-1zM119 568h1v1h-1zM120 569h2v1h-2zM122 570h1v1h-1zM123 571h1v1h-1zM124 572h2v1h-2zM126 573h2v1h-2zM128 574h2v1h-2zM130 575h2v1h-2zM132 576h1v1h-1zM133 576h3v1h-3zM136 575h2v1h-2zM138 575h1v1h-1zM139 574h2v1h-2zM141 573h2v1h-2zM143 572h1v1h-1zM144 571h2v1h-2zM146 570h2v1h-2zM148 569h1v1h-1zM149 568h1v1h-1zM150 567h1v1h-1zM151 566h1v1h-1zM152 565h1v1h-1zM153 564h1v1h-1zM154 565h1v1h-1zM155 566h1v1h-1zM156 567h1v2h-1zM157 569h1v1h-1zM158 570h1v1h-1zM159 571h1v1h-1zM160 572h1v1h-1zM161 573h1v2h-1zM162 575h1v1h-1zM163 576h3v1h-3zM166 577h2v1h-2zM168 577h1v1h-1zM169 576h2v1h-2zM171 575h2v1h-2zM173 574h3v1h-3zM176 575h2v1h-2zM178 574h1v2h-1zM179 570h1v4h-1zM180 567h1v3h-1zM181 563h1v4h-1zM182 559h1v4h-1zM183 558h1v1h-1zM183 557h1v1h-1zM184 556h2v1h-2zM186 555h2v1h-2zM188 554h3v1h-3zM191 555h2v1h-2zM193 555h3v1h-3zM196 554h2v1h-2zM198 554h5v1h-5zM203 554h2v1h-2zM205 555h2v1h-2zM207 556h1v1h-1zM208 556h3v1h-3zM211 555h2v1h-2zM213 555h3v1h-3zM216 554h2v1h-2zM218 554h5v1h-5zM223 554h3v1h-3zM226 555h2v1h-2zM228 555h2v1h-2zM230 554h2v1h-2zM232 553h1v1h-1zM233 553h5v1h-5zM238 553h5v1h-5zM243 553h3v1h-3zM246 552h2v1h-2zM248 552h1v1h-1zM249 551h1v1h-1zM250 550h2v1h-2zM252 549h1v1h-1zM253 548h2v1h-2zM255 549h2v1h-2zM257 550h1v1h-1zM258 550h1v1h-1zM259 551h1v1h-1zM260 552h2v1h-2zM262 553h1v1h-1zM263 554h5v1h-5zM268 554h2v1h-2zM270 553h2v1h-2zM272 552h1v1h-1zM273 552h3v1h-3zM276 553h2v1h-2zM278 553h1v1h-1zM279 554h1v1h-1zM280 555h1v1h-1zM281 556h1v2h-1zM282 558h1v1h-1zM283 559h1v1h-1zM284 558h2v1h-2zM286 557h2v1h-2zM288 556h2v1h-2zM290 555h2v1h-2zM292 554h1v1h-1zM293 554h1v1h-1zM294 553h1v1h-1zM295 552h2v1h-2zM297 551h1v1h-1zM298 550h3v1h-3zM301 549h2v1h-2zM303 549h3v1h-3zM306 550h2v1h-2zM308 550h5v1h-5zM313 550h3v1h-3zM316 551h2v1h-2zM318 551h5v1h-5zM323 551h1v1h-1zM324 552h1v2h-1zM325 554h1v1h-1zM326 555h1v1h-1zM327 556h1v2h-1zM328 558h1v1h-1zM329 559h2v1h-2zM331 560h2v1h-2zM333 561h1v1h-1zM334 560h1v1h-1zM335 559h2v1h-2zM337 558h1v1h-1zM338 557h5v1h-5zM343 557h3v1h-3zM346 556h2v1h-2zM348 556h3v1h-3zM351 557h2v1h-2zM353 557h5v1h-5zM358 557h3v1h-3zM361 556h2v1h-2zM363 556h3v1h-3zM366 557h2v1h-2zM368 557h3v1h-3zM371 558h2v1h-2zM373 558h3v1h-3zM376 559h2v1h-2zM378 559h1v1h-1zM379 560h2v1h-2zM381 561h2v1h-2zM383 562h3v1h-3zM386 563h2v1h-2zM388 563h3v1h-3zM391 562h2v1h-2zM393 562h1v1h-1zM394 561h2v1h-2zM396 560h2v1h-2zM398 559h3v1h-3zM401 558h2v1h-2zM403 558h1v1h-1zM404 557h2v1h-2zM406 556h2v1h-2zM408 555h5v1h-5zM413 555h2v1h-2zM415 556h2v1h-2zM417 557h1v1h-1zM418 557h1v1h-1zM419 556h1v1h-1zM420 555h1v1h-1zM421 554h1v1h-1zM422 553h1v1h-1zM423 552h5v1h-5zM428 552h2v1h-2zM430 551h2v1h-2zM432 550h1v1h-1zM433 550h3v1h-3zM436 549h2v1h-2zM438 549h2v1h-2zM440 548h2v1h-2zM442 547h1v1h-1zM443 547h5v1h-5zM448 547h3v1h-3zM451 546h2v1h-2zM453 546h5v1h-5zM458 546h1v1h-1zM459 545h1v1h-1zM460 544h2v1h-2zM462 543h1v1h-1zM463 542h5v1h-5zM468 542h5v1h-5zM473 542h2v1h-2zM475 543h2v1h-2zM477 544h1v1h-1zM478 544h1v1h-1zM479 545h1v1h-1zM480 546h1v1h-1zM481 547h1v1h-1zM482 548h1v1h-1zM483 549h3v1h-3zM486 548h2v1h-2zM488 548h1v1h-1zM489 547h1v1h-1zM490 546h2v1h-2zM492 545h1v1h-1zM493 544h1v1h-1zM494 545h1v1h-1zM495 546h1v1h-1zM496 547h1v2h-1zM497 549h1v1h-1zM498 550h1v1h-1zM499 551h2v1h-2zM501 552h2v1h-2zM503 553h5v1h-5zM508 553h1v1h-1zM509 554h2v1h-2zM511 555h2v1h-2zM513 556h2v1h-2zM515 557h2v1h-2zM517 558h1v1h-1zM518 558h1v1h-1zM519 557h2v1h-2zM521 556h2v1h-2zM523 555h1v1h-1zM524 554h1v1h-1zM525 553h2v1h-2zM527 552h1v1h-1zM528 551h5v1h-5zM533 551h3v1h-3zM536 552h2v1h-2zM538 552h3v1h-3zM541 551h2v1h-2zM543 551h5v1h-5zM548 551h5v1h-5zM553 551h3v1h-3zM556 550h2v1h-2zM558 550h3v1h-3zM561 549h2v1h-2zM563 549h5v1h-5zM568 549h3v1h-3zM571 550h2v1h-2zM573 550h1v1h-1zM574 549h1v1h-1zM575 548h1v1h-1zM576 547h1v1h-1zM577 546h1v1h-1zM578 545h3v1h-3zM581 546h2v1h-2zM583 546h2v1h-2zM585 547h2v1h-2zM587 548h1v1h-1zM588 548h1v1h-1zM589 549h1v1h-1zM590 550h1v1h-1zM591 551h1v1h-1zM592 552h1v1h-1zM593 553h1v1h-1zM594 554h1v1h-1zM595 555h2v1h-2zM597 556h1v1h-1zM598 557h1v1h-1zM599 556h2v1h-2zM601 555h2v1h-2zM603 554h1v1h-1zM604 552h1v2h-1zM605 551h1v1h-1zM606 549h1v2h-1zM607 547h1v2h-1zM608 546h5v1h-5zM613 546h3v1h-3zM616 547h2v1h-2zM618 547h5v1h-5zM623 547h1v1h-1zM624 546h1v1h-1zM625 545h2v1h-2zM627 544h1v1h-1zM628 543h3v1h-3zM631 544h2v1h-2zM633 544h2v1h-2zM635 543h2v1h-2zM637 542h1v1h-1zM638 542h5v1h-5zM643 542h3v1h-3zM646 543h2v1h-2zM648 543h5v1h-5zM653 543h5v1h-5zM658 543h1v1h-1zM659 542h2v1h-2zM661 541h2v1h-2zM663 540h3v1h-3zM666 541h2v1h-2zM668 541h5v1h-5zM673 541h5v1h-5zM678 541h2v1h-2zM680 540h2v1h-2zM682 539h1v1h-1zM683 539h2v1h-2zM685 538h2v1h-2zM687 537h1v1h-1zM688 537h3v1h-3zM691 538h2v1h-2zM693 538h5v1h-5zM698 538h5v1h-5zM703 538h3v1h-3zM706 537h2v1h-2zM708 537h3v1h-3zM711 536h2v1h-2zM713 536h5v1h-5zM718 536h1v1h-1zM719 537h2v1h-2zM721 538h2v1h-2zM723 539h1v1h-1zM724 540h1v1h-1zM725 541h1v1h-1zM726 542h1v2h-1zM727 544h1v1h-1zM728 545h3v1h-3zM731 546h2v1h-2zM733 546h1v1h-1zM734 547h1v1h-1zM735 548h1v1h-1zM736 549h1v1h-1zM737 550h1v1h-1zM738 551h3v1h-3zM741 552h2v1h-2zM743 552h1v1h-1zM744 551h2v1h-2zM746 550h2v1h-2zM748 549h3v1h-3zM751 550h2v1h-2zM753 550h1v1h-1zM754 548h1v2h-1zM755 546h1v2h-1zM756 544h1v2h-1zM757 542h1v2h-1zM758 541h1v1h-1zM758 540h3v1h-3zM761 539h2v1h-2zM763 539h2v1h-2zM765 540h2v1h-2zM767 541h1v1h-1zM768 541h5v1h-5zM773 541h3v1h-3zM776 542h2v1h-2zM778 542h3v1h-3zM781 541h2v1h-2zM783 541h5v1h-5zM788 541h3v1h-3zM791 540h2v1h-2zM793 540h3v1h-3zM796 541h2v1h-2zM798 541h2v1h-2zM800 542h2v1h-2zM802 543h1v1h-1zM803 543h2v1h-2zM805 542h2v1h-2zM807 541h1v1h-1zM808 541h3v1h-3zM811 540h2v1h-2zM813 540h1v1h-1zM814 539h2v1h-2zM816 538h2v1h-2zM818 537h2v1h-2zM820 538h2v1h-2zM822 539h1v1h-1zM823 539h2v1h-2zM825 538h2v1h-2zM827 537h1v1h-1zM828 537h1v1h-1zM829 538h1v1h-1zM830 539h1v1h-1zM831 540h1v1h-1zM832 541h1v1h-1zM833 542h2v1h-2zM835 541h2v1h-2zM837 540h1v1h-1zM838 540h5v1h-5zM843 540h1v1h-1zM844 539h1v1h-1zM845 538h2v1h-2zM847 537h1v1h-1zM848 536h3v1h-3zM851 535h2v1h-2zM853 535h1v1h-1zM854 534h2v1h-2zM856 533h2v1h-2zM858 532h5v1h-5zM863 532h3v1h-3zM866 531h2v1h-2zM868 531h2v1h-2zM870 532h2v1h-2zM872 533h1v1h-1zM873 533h2v1h-2zM875 532h2v1h-2zM877 531h1v1h-1zM878 531h5v1h-5zM883 531h3v1h-3zM886 532h2v1h-2zM888 532h3v1h-3zM891 531h2v1h-2zM893 531h5v1h-5zM898 531h2v1h-2zM900 530h2v1h-2zM902 529h1v1h-1zM903 529h2v1h-2zM905 530h2v1h-2zM907 531h1v1h-1zM908 531h3v1h-3zM911 530h2v1h-2zM913 530h1v1h-1zM914 529h2v1h-2zM916 528h2v1h-2zM918 527h3v1h-3zM921 526h2v1h-2zM923 526h3v1h-3zM926 525h2v1h-2zM928 525h3v1h-3zM931 524h2v1h-2zM933 524h2v1h-2zM935 525h2v1h-2zM937 526h1v1h-1zM938 526h3v1h-3zM941 527h2v1h-2zM943 527h1v1h-1zM944 526h2v1h-2zM946 525h2v1h-2zM948 524h2v1h-2zM950 523h2v1h-2zM952 522h1v1h-1zM953 522h5v1h-5zM958 522h3v1h-3zM961 523h2v1h-2zM963 523h2v1h-2zM965 524h2v1h-2zM967 525h1v1h-1zM968 525h1v1h-1zM969 526h1v1h-1zM970 527h1v1h-1zM971 528h1v1h-1zM972 529h1v1h-1zM973 530h1v1h-1zM974 531h1v1h-1zM975 532h2v1h-2zM977 533h1v1h-1zM978 534h2v1h-2zM980 533h2v1h-2zM982 532h1v1h-1zM983 532h1v1h-1z" fill="#ff00ff" shape-rendering="crispEdges"/>
<path d="M63 548h1v1h-1zM64 549h1v1h-1zM65 550h1v1h-1zM66 551h1v1h-1zM67 552h1v1h-1zM68 553h1v1h-1zM69 552h1v1h-1zM70 551h1v1h-1zM71 549h1v2h-1zM72 548h1v1h-1zM73 547h5v1h-5zM78 547h1v2h-1zM79 549h1v3h-1zM80 552h1v2h-1zM81 554h1v3h-1zM82 557h1v3h-1zM83 560h1v1h-1zM83 561h1v1h-1zM84 562h1v1h-1zM85 563h1v1h-1zM86 564h1v1h-1zM87 565h1v1h-1zM88 566h2v1h-2zM90 567h2v1h-2zM92 568h1v1h-1zM93 568h1v1h-1zM94 569h2v1h-2zM96 570h2v1h-2zM98 571h2v1h-2zM100 572h2v1h-2zM102 573h1v1h-1zM103 573h2v1h-2zM105 574h2v1h-2zM107 575h1v1h-1zM108 575h5v1h-5zM113 575h2v1h-2zM115 576h2v1h-2zM117 577h1v1h-1zM118 577h1v1h-1zM119 578h1v1h-1zM120 579h2v1h-2zM122 580h1v1h-1zM123 581h2v1h-2zM125 582h2v1h-2zM127 583h1v1h-1zM128 583h2v1h-2zM130 584h2v1h-2zM132 585h1v1h-1zM133 585h1v1h-1zM134 584h2v1h-2zM136 583h2v1h-2zM138 582h1v1h-1zM139 581h1v1h-1zM140 580h2v1h-2zM142 579h1v1h-1zM143 578h1v1h-1zM144 577h1v1h-1zM145 576h1v1h-1zM146 574h1v2h-1zM147 573h1v1h-1zM148 572h1v1h-1zM149 570h1v2h-1zM150 569h1v1h-1zM151 568h1v1h-1zM152 566h1v2h-1zM153 565h1v1h-1zM154 566h1v2h-1zM155 568h1v1h-1zM156 569h1v2h-1zM157 571h1v2h-1zM158 573h1v1h-1zM159 574h1v2h-1zM160 576h1v1h-1zM161 577h1v1h-1zM162 578h1v2h-1zM163 580h3v1h-3zM166 581h2v1h-2zM168 581h1v1h-1zM169 580h1v1h-1zM170 579h2v1h-2zM172 578h1v1h-1zM173 577h3v1h-3zM176 578h2v1h-2zM178 576h1v3h-1zM179 571h1v5h-1zM180 566h1v5h-1zM181 561h1v5h-1zM182 556h1v5h-1zM183 554h1v2h-1zM183 553h1v1h-1zM184 552h1v1h-1zM185 551h1v1h-1zM186 550h1v1h-1zM187 549h1v1h-1zM188 548h2v1h-2zM190 549h2v1h-2zM192 550h1v1h-1zM193 550h5v1h-5zM198 550h5v1h-5zM203 550h1v1h-1zM204 551h2v1h-2zM206 552h2v1h-2zM208 553h3v1h-3zM211 552h2v1h-2zM213 552h2v1h-2zM215 551h2v1h-2zM217 550h1v1h-1zM218 550h5v1h-5zM223 550h2v1h-2zM225 551h2v1h-2zM227 552h1v1h-1zM228 552h1v1h-1zM229 551h2v1h-2zM231 550h2v1h-2zM233 549h5v1h-5zM238 549h5v1h-5zM243 549h2v1h-2zM245 548h2v1h-2zM247 547h1v1h-1zM248 547h1v1h-1zM249 545h1v2h-1zM250 544h1v1h-1zM251 543h1v1h-1zM252 541h1v2h-1zM253 540h1v1h-1zM254 541h2v1h-2zM256 542h2v1h-2zM258 543h1v1h-1zM259 544h1v2h-1zM260 546h1v2h-1zM261 548h1v2h-1zM262 550h1v2h-1zM263 552h5v1h-5zM268 552h1v1h-1zM269 551h1v1h-1zM270 550h2v1h-2zM272 549h1v1h-1zM273 548h1v1h-1zM274 549h1v1h-1zM275 550h2v1h-2zM277 551h1v1h-1zM278 552h1v1h-1zM279 553h1v2h-1zM280 555h1v2h-1zM281 557h1v2h-1zM282 559h1v2h-1zM283 561h1v1h-1zM283 562h1v1h-1zM284 561h1v1h-1zM285 560h1v1h-1zM286 558h1v2h-1zM287 557h1v1h-1zM288 556h1v1h-1zM289 555h2v1h-2zM291 554h2v1h-2zM293 553h1v1h-1zM294 551h1v2h-1zM295 550h1v1h-1zM296 549h1v1h-1zM297 547h1v2h-1zM298 546h3v1h-3zM301 545h2v1h-2zM303 545h3v1h-3zM306 546h2v1h-2zM308 546h5v1h-5zM313 546h2v1h-2zM315 547h2v1h-2zM317 548h1v1h-1zM318 548h5v1h-5zM323 548h1v2h-1zM324 550h1v2h-1zM325 552h1v3h-1zM326 555h1v3h-1zM327 558h1v2h-1zM328 560h1v1h-1zM328 561h1v1h-1zM329 562h1v1h-1zM330 563h1v1h-1zM331 564h1v1h-1zM332 565h1v1h-1zM333 566h1v1h-1zM334 564h1v2h-1zM335 563h1v1h-1zM336 561h1v2h-1zM337 559h1v2h-1zM338 558h3v1h-3zM341 559h2v1h-2zM343 559h1v1h-1zM344 558h2v1h-2zM346 557h2v1h-2zM348 556h1v1h-1zM349 557h2v1h-2zM351 558h2v1h-2zM353 559h3v1h-3zM356 558h2v1h-2zM358 558h5v1h-5zM363 558h3v1h-3zM366 559h2v1h-2zM368 559h2v1h-2zM370 560h2v1h-2zM372 561h1v1h-1zM373 561h3v1h-3zM376 562h2v1h-2zM378 562h1v1h-1zM379 563h1v1h-1zM380 564h1v1h-1zM381 565h1v2h-1zM382 567h1v1h-1zM383 568h3v1h-3zM386 569h2v1h-2zM388 569h5v1h-5zM393 569h1v1h-1zM394 567h1v2h-1zM395 566h1v1h-1zM396 565h1v1h-1zM397 563h1v2h-1zM398 562h1v1h-1zM399 561h2v1h-2zM401 560h2v1h-2zM403 559h1v1h-1zM404 558h1v1h-1zM405 557h1v1h-1zM406 555h1v2h-1zM407 554h1v1h-1zM408 553h5v1h-5zM413 553h1v1h-1zM414 554h2v1h-2zM416 555h2v1h-2zM418 556h1v1h-1zM419 554h1v2h-1zM420 552h1v2h-1zM421 550h1v2h-1zM422 548h1v2h-1zM423 547h1v1h-1zM423 546h5v1h-5zM428 546h1v1h-1zM429 545h2v1h-2zM431 544h2v1h-2zM433 543h2v1h-2zM435 542h2v1h-2zM437 541h1v1h-1zM438 541h1v1h-1zM439 540h1v1h-1zM440 539h1v1h-1zM441 538h1v1h-1zM442 537h1v1h-1zM443 536h2v1h-2zM445 537h2v1h-2zM447 538h1v1h-1zM448 538h2v1h-2zM450 537h2v1h-2zM452 536h1v1h-1zM453 536h3v1h-3zM456 535h2v1h-2zM458 535h1v1h-1zM459 534h1v1h-1zM460 533h1v1h-1zM461 531h1v2h-1zM462 530h1v1h-1zM463 529h3v1h-3zM466 528h2v1h-2zM468 528h2v1h-2zM470 529h2v1h-2zM472 530h1v1h-1zM473 530h1v1h-1zM474 531h1v1h-1zM475 532h2v1h-2zM477 533h1v1h-1zM478 534h1v2h-1zM479 536h1v2h-1zM480 538h1v3h-1zM481 541h1v3h-1zM482 544h1v2h-1zM483 546h1v1h-1zM483 547h3v1h-3zM486 546h2v1h-2zM488 546h1v1h-1zM489 544h1v2h-1zM490 543h1v1h-1zM491 541h1v2h-1zM492 539h1v2h-1zM493 538h1v2h-1zM494 540h1v2h-1zM495 542h1v3h-1zM496 545h1v3h-1zM497 548h1v2h-1zM498 550h1v1h-1zM498 551h1v1h-1zM499 552h1v1h-1zM500 553h1v1h-1zM501 554h1v1h-1zM502 555h1v1h-1zM503 556h3v1h-3zM506 557h2v1h-2zM508 557h1v1h-1zM509 558h1v1h-1zM510 559h2v1h-2zM512 560h1v1h-1zM513 561h1v1h-1zM514 562h2v1h-2zM516 563h2v1h-2zM518 564h1v1h-1zM519 562h1v2h-1zM520 561h1v1h-1zM521 560h1v1h-1zM522 558h1v2h-1zM523 557h1v1h-1zM524 556h1v1h-1zM525 555h1v1h-1zM526 553h1v2h-1zM527 552h1v1h-1zM528 551h3v1h-3zM531 550h2v1h-2zM533 550h2v1h-2zM535 551h2v1h-2zM537 552h1v1h-1zM538 552h3v1h-3zM541 551h2v1h-2zM543 551h3v1h-3zM546 550h2v1h-2zM548 550h3v1h-3zM551 551h2v1h-2zM553 551h2v1h-2zM555 550h2v1h-2zM557 549h1v1h-1zM558 549h2v1h-2zM560 548h2v1h-2zM562 547h1v1h-1zM563 547h2v1h-2zM565 546h2v1h-2zM567 545h1v1h-1zM568 545h1v1h-1zM569 546h2v1h-2zM571 547h2v1h-2zM573 548h1v1h-1zM574 546h1v2h-1zM575 544h1v2h-1zM576 542h1v2h-1zM577 540h1v2h-1zM578 539h1v1h-1zM578 538h1v1h-1zM579 539h2v1h-2zM581 540h2v1h-2zM583 541h1v1h-1zM584 542h1v1h-1zM585 543h1v1h-1zM586 544h1v1h-1zM587 545h1v1h-1zM588 546h1v1h-1zM589 547h1v2h-1zM590 549h1v2h-1zM591 551h1v2h-1zM592 553h1v2h-1zM593 555h1v1h-1zM593 556h1v1h-1zM594 557h1v1h-1zM595 558h1v1h-1zM596 559h1v2h-1zM597 561h1v1h-1zM598 562h1v1h-1zM599 561h1v1h-1zM600 560h1v1h-1zM601 559h1v1h-1zM602 558h1v1h-1zM603 556h1v2h-1zM604 553h1v3h-1zM605 550h1v3h-1zM606 547h1v3h-1zM607 544h1v3h-1zM608 543h1v1h-1zM608 542h3v1h-3zM611 543h2v1h-2zM613 543h2v1h-2zM615 544h2v1h-2zM617 545h1v1h-1zM618 545h5v1h-5zM623 545h1v1h-1zM624 543h1v2h-1zM625 542h1v1h-1zM626 540h1v2h-1zM627 538h1v2h-1zM628 537h2v1h-2zM630 538h2v1h-2zM632 539h1v1h-1zM633 539h1v1h-1zM634 538h2v1h-2zM636 537h2v1h-2zM638 536h3v1h-3zM641 537h2v1h-2zM643 537h3v1h-3zM646 538h2v1h-2zM648 538h3v1h-3zM651 539h2v1h-2zM653 539h3v1h-3zM656 538h2v1h-2zM658 538h1v1h-1zM659 537h1v1h-1zM660 536h1v1h-1zM661 535h1v1h-1zM662 534h1v1h-1zM663 533h3v1h-3zM666 534h2v1h-2zM668 534h2v1h-2zM670 535h2v1h-2zM672 536h1v1h-1zM673 536h2v1h-2zM675 535h2v1h-2zM677 534h1v1h-1zM678 534h2v1h-2zM680 533h2v1h-2zM682 532h1v1h-1zM683 532h1v1h-1zM684 531h1v1h-1zM685 530h2v1h-2zM687 529h1v1h-1zM688 528h3v1h-3zM691 529h2v1h-2zM693 529h2v1h-2zM695 530h2v1h-2zM697 531h1v1h-1zM698 531h3v1h-3zM701 530h2v1h-2zM703 530h2v1h-2zM705 529h2v1h-2zM707 528h1v1h-1zM708 528h2v1h-2zM710 527h2v1h-2zM712 526h1v1h-1zM713 526h3v1h-3zM716 527h2v1h-2zM718 527h1v1h-1zM719 528h1v2h-1zM720 530h1v2h-1zM721 532h1v2h-1zM722 534h1v2h-1zM723 536h1v2h-1zM724 538h1v2h-1zM725 540h1v3h-1zM726 543h1v3h-1zM727 546h1v2h-1zM728 548h1v1h-1zM728 549h1v1h-1zM729 550h2v1h-2zM731 551h2v1h-2zM733 552h1v1h-1zM734 553h1v2h-1zM735 555h1v1h-1zM736 556h1v2h-1zM737 558h1v2h-1zM738 560h2v1h-2zM740 561h2v1h-2zM742 562h1v1h-1zM743 562h1v1h-1zM744 561h1v1h-1zM745 560h1v1h-1zM746 558h1v2h-1zM747 557h1v1h-1zM748 556h5v1h-5zM753 555h1v2h-1zM754 551h1v4h-1zM755 547h1v4h-1zM756 543h1v4h-1zM757 539h1v4h-1zM758 538h1v1h-1zM758 537h2v1h-2zM760 536h2v1h-2zM762 535h1v1h-1zM763 535h1v1h-1zM764 536h1v1h-1zM765 537h2v1h-2zM767 538h1v1h-1zM768 539h3v1h-3zM771 538h2v1h-2zM773 538h2v1h-2zM775 539h2v1h-2zM777 540h1v1h-1zM778 540h5v1h-5zM783 540h3v1h-3zM786 539h2v1h-2zM788 539h3v1h-3zM791 538h2v1h-2zM793 538h3v1h-3zM796 539h2v1h-2zM798 539h1v1h-1zM799 540h1v1h-1zM800 541h2v1h-2zM802 542h1v1h-1zM803 543h1v1h-1zM804 542h1v1h-1zM805 541h2v1h-2zM807 540h1v1h-1zM808 539h2v1h-2zM810 538h2v1h-2zM812 537h1v1h-1zM813 537h1v1h-1zM814 536h1v1h-1zM815 535h1v1h-1zM816 533h1v2h-1zM817 532h1v1h-1zM818 531h1v1h-1zM819 532h1v1h-1zM820 533h1v1h-1zM821 534h1v1h-1zM822 535h1v1h-1zM823 536h1v1h-1zM824 535h2v1h-2zM826 534h2v1h-2zM828 533h1v1h-1zM829 534h1v2h-1zM830 536h1v2h-1zM831 538h1v2h-1zM832 540h1v2h-1zM833 542h1v1h-1zM834 541h1v1h-1zM835 540h2v1h-2zM837 539h1v1h-1zM838 538h3v1h-3zM841 539h2v1h-2zM843 539h1v1h-1zM844 537h1v2h-1zM845 536h1v1h-1zM846 534h1v2h-1zM847 532h1v2h-1zM848 531h2v1h-2zM850 530h2v1h-2zM852 529h1v1h-1zM853 529h1v1h-1zM854 528h1v1h-1zM855 527h1v1h-1zM856 526h1v1h-1zM857 525h1v1h-1zM858 524h5v1h-5zM863 524h2v1h-2zM865 523h2v1h-2zM867 522h1v1h-1zM868 522h1v1h-1zM869 523h1v1h-1zM870 524h1v1h-1zM871 525h1v1h-1zM872 526h1v1h-1zM873 527h2v1h-2zM875 526h2v1h-2zM877 525h1v1h-1zM878 525h2v1h-2zM880 524h2v1h-2zM882 523h1v1h-1zM883 523h1v1h-1zM884 524h2v1h-2zM886 525h2v1h-2zM888 526h3v1h-3zM891 525h2v1h-2zM893 525h5v1h-5zM898 525h1v1h-1zM899 524h1v1h-1zM900 523h2v1h-2zM902 522h1v1h-1zM903 521h1v1h-1zM904 522h1v1h-1zM905 523h2v1h-2zM907 524h1v1h-1zM908 525h2v1h-2zM910 524h2v1h-2zM912 523h1v1h-1zM913 523h1v1h-1zM914 522h1v1h-1zM915 521h2v1h-2zM917 520h1v1h-1zM918 519h3v1h-3zM921 518h2v1h-2zM923 518h2v1h-2zM925 517h2v1h-2zM927 516h1v1h-1zM928 516h3v1h-3zM931 515h2v1h-2zM933 515h1v1h-1zM934 516h1v1h-1zM935 517h2v1h-2zM937 518h1v1h-1zM938 519h1v1h-1zM939 520h2v1h-2zM941 521h2v1h-2zM943 522h1v1h-1zM944 521h1v1h-1zM945 520h1v1h-1zM946 519h1v1h-1zM947 518h1v1h-1zM948 517h1v1h-1zM949 516h2v1h-2zM951 515h2v1h-2zM953 514h5v1h-5zM958 514h2v1h-2zM960 515h2v1h-2zM962 516h1v1h-1zM963 516h1v1h-1zM964 517h1v1h-1zM965 518h1v1h-1zM966 519h1v1h-1zM967 520h1v1h-1zM968 521h1v1h-1zM969 522h1v2h-1zM970 524h1v2h-1zM971 526h1v2h-1zM972 528h1v2h-1zM973 530h1v1h-1zM973 531h1v1h-1zM974 532h1v2h-1zM975 534h1v1h-1zM976 535h1v2h-1zM977 537h1v2h-1zM978 539h1v1h-1zM979 538h1v1h-1zM980 537h2v1h-2zM982 536h1v1h-1zM983 535h1v1h-1z" fill="#00008b" shape-rendering="crispEdges"/>
<path d="M63 552h1v1h-1zM64 553h1v2h-1zM65 555h1v1h-1zM66 556h1v2h-1zM67 558h1v2h-1zM68 559h1v2h-1zM69 557h1v2h-1zM70 555h1v2h-1zM71 552h1v3h-1zM72 550h1v2h-1zM73 549h1v1h-1zM73 548h5v1h-5zM78 548h1v3h-1zM79 551h1v4h-1zM80 555h1v4h-1zM81 559h1v5h-1zM82 564h1v4h-1zM83 568h1v2h-1zM83 570h1v1h-1zM84 571h1v1h-1zM85 572h1v1h-1zM86 573h1v1h-1zM87 574h1v1h-1zM88 575h2v1h-2zM90 576h2v1h-2zM92 577h1v1h-1zM93 577h1v1h-1zM94 578h2v1h-2zM96 579h2v1h-2zM98 580h2v1h-2zM100 581h2v1h-2zM102 582h1v1h-1zM103 582h3v1h-3zM106 583h2v1h-2zM108 583h5v1h-5zM113 583h2v1h-2zM115 584h2v1h-2zM117 585h1v1h-1zM118 585h1v1h-1zM119 586h2v1h-2zM121 587h2v1h-2zM123 588h5v1h-5zM128 588h5v1h-5zM133 588h1v1h-1zM134 587h1v1h-1zM135 586h2v1h-2zM137 585h1v1h-1zM138 584h1v1h-1zM139 583h1v1h-1zM140 582h1v1h-1zM141 580h1v2h-1zM142 579h1v1h-1zM143 578h1v1h-1zM144 576h1v2h-1zM145 574h1v2h-1zM146 572h1v2h-1zM147 570h1v2h-1zM148 569h1v1h-1zM148 567h1v2h-1zM149 565h1v2h-1zM150 563h1v2h-1zM151 560h1v3h-1zM152 558h1v2h-1zM153 557h1v1h-1zM153 556h1v2h-1zM154 558h1v3h-1zM155 561h1v3h-1zM156 564h1v4h-1zM157 568h1v3h-1zM158 571h1v1h-1zM158 572h1v1h-1zM159 573h1v2h-1zM160 575h1v2h-1zM161 577h1v2h-1zM162 579h1v2h-1zM163 581h1v1h-1zM163 582h3v1h-3zM166 583h2v1h-2zM168 583h1v1h-1zM169 582h1v1h-1zM170 581h1v1h-1zM171 579h1v2h-1zM172 578h1v1h-1zM173 577h3v1h-3zM176 578h2v1h-2zM178 575h1v4h-1zM179 568h1v7h-1zM180 561h1v7h-1zM181 554h1v7h-1zM182 547h1v7h-1zM183 544h1v3h-1zM183 543h1v1h-1zM184 542h1v1h-1zM185 541h1v1h-1zM186 540h1v1h-1zM187 539h1v1h-1zM188 538h1v1h-1zM189 539h2v1h-2zM191 540h2v1h-2zM193 541h5v1h-5zM198 541h5v1h-5zM203 541h1v1h-1zM204 542h1v2h-1zM205 544h1v1h-1zM206 545h1v1h-1zM207 546h1v2h-1zM208 548h2v1h-2zM210 547h2v1h-2zM212 546h1v1h-1zM213 546h1v1h-1zM214 545h1v1h-1zM215 544h1v1h-1zM216 543h1v1h-1zM217 542h1v1h-1zM218 541h3v1h-3zM221 542h2v1h-2zM223 542h1v1h-1zM224 543h1v2h-1zM225 545h1v1h-1zM226 546h1v1h-1zM227 547h1v2h-1zM228 549h1v1h-1zM229 547h1v2h-1zM230 546h1v1h-1zM231 545h1v1h-1zM232 543h1v2h-1zM233 542h3v1h-3zM236 541h2v1h-2zM238 541h2v1h-2zM240 542h2v1h-2zM242 543h1v1h-1zM243 543h1v1h-1zM244 542h1v1h-1zM245 541h1v1h-1zM246 539h1v2h-1zM247 538h1v1h-1zM248 536h1v2h-1zM249 533h1v3h-1zM250 531h1v2h-1zM251 528h1v3h-1zM252 525h1v3h-1zM253 524h1v1h-1zM253 523h1v2h-1zM254 525h1v2h-1zM255 527h1v2h-1zM256 529h1v3h-1zM257 532h1v2h-1zM258 534h1v1h-1zM258 535h1v2h-1zM259 537h1v4h-1zM260 541h1v4h-1zM261 545h1v4h-1zM262 549h1v4h-1zM263 553h1v1h-1zM263 554h3v1h-3zM266 555h2v1h-2zM268 555h1v1h-1zM269 553h1v2h-1zM270 552h1v1h-1zM271 550h1v2h-1zM272 548h1v2h-1zM273 547h1v1h-1zM274 548h1v2h-1zM275 550h1v1h-1zM276 551h1v2h-1zM277 553h1v2h-1zM278 555h1v2h-1zM279 557h1v3h-1zM280 560h1v3h-1zM281 563h1v4h-1zM282 567h1v3h-1zM283 570h1v1h-1zM283 570h1v2h-1zM284 568h1v2h-1zM285 566h1v2h-1zM286 564h1v2h-1zM287 562h1v2h-1zM288 561h1v1h-1zM288 560h1v1h-1zM289 558h1v2h-1zM290 557h1v1h-1zM291 556h1v1h-1zM292 554h1v2h-1zM293 552h1v2h-1zM294 550h1v2h-1zM295 547h1v3h-1zM296 544h1v3h-1zM297 542h1v2h-1zM298 541h1v1h-1zM298 540h2v1h-2zM300 539h2v1h-2zM302 538h1v1h-1zM303 538h2v1h-2zM305 539h2v1h-2zM307 540h1v1h-1zM308 540h5v1h-5zM313 540h1v1h-1zM314 541h1v1h-1zM315 542h1v1h-1zM316 543h1v2h-1zM317 545h1v1h-1zM318 546h3v1h-3zM321 547h2v1h-2zM323 547h1v3h-1zM324 550h1v5h-1zM325 555h1v5h-1zM326 560h1v5h-1zM327 565h1v5h-1zM328 570h1v2h-1zM328 572h1v1h-1zM329 573h1v1h-1zM330 574h1v1h-1zM331 575h1v1h-1zM332 576h1v1h-1zM333 576h1v2h-1zM334 573h1v3h-1zM335 570h1v3h-1zM336 566h1v4h-1zM337 563h1v3h-1zM338 562h1v1h-1zM338 561h3v1h-3zM341 562h2v1h-2zM343 562h1v1h-1zM344 561h1v1h-1zM345 560h1v1h-1zM346 559h1v1h-1zM347 558h1v1h-1zM348 557h1v1h-1zM349 558h1v1h-1zM350 559h1v1h-1zM351 560h1v1h-1zM352 561h1v1h-1zM353 562h3v1h-3zM356 561h2v1h-2zM358 561h2v1h-2zM360 560h2v1h-2zM362 559h1v1h-1zM363 559h1v1h-1zM364 560h1v1h-1zM365 561h2v1h-2zM367 562h1v1h-1zM368 563h1v1h-1zM369 564h2v1h-2zM371 565h2v1h-2zM373 566h1v1h-1zM374 567h2v1h-2zM376 568h2v1h-2zM378 569h1v1h-1zM379 570h1v2h-1zM380 572h1v1h-1zM381 573h1v2h-1zM382 575h1v2h-1zM383 577h2v1h-2zM385 578h2v1h-2zM387 579h1v1h-1zM388 579h2v1h-2zM390 578h2v1h-2zM392 577h1v1h-1zM393 576h1v2h-1zM394 573h1v3h-1zM395 570h1v3h-1zM396 566h1v4h-1zM397 563h1v3h-1zM398 562h1v1h-1zM398 561h1v1h-1zM399 560h1v1h-1zM400 559h1v1h-1zM401 557h1v2h-1zM402 556h1v1h-1zM403 554h1v2h-1zM404 552h1v2h-1zM405 549h1v3h-1zM406 546h1v3h-1zM407 544h1v2h-1zM408 543h1v1h-1zM408 542h2v1h-2zM410 543h2v1h-2zM412 544h1v1h-1zM413 544h1v1h-1zM414 545h1v2h-1zM415 547h1v1h-1zM416 548h1v1h-1zM417 549h1v2h-1zM418 550h1v2h-1zM419 546h1v4h-1zM420 542h1v4h-1zM421 538h1v4h-1zM422 534h1v4h-1zM423 533h1v1h-1zM423 532h5v1h-5zM428 532h1v1h-1zM429 531h2v1h-2zM431 530h2v1h-2zM433 529h1v1h-1zM434 528h1v1h-1zM435 527h1v1h-1zM436 526h1v1h-1zM437 525h1v1h-1zM438 524h1v1h-1zM439 523h1v1h-1zM440 522h1v1h-1zM441 520h1v2h-1zM442 519h1v1h-1zM443 518h1v1h-1zM444 519h1v2h-1zM445 521h1v1h-1zM446 522h1v1h-1zM447 523h1v2h-1zM448 525h1v1h-1zM449 524h1v1h-1zM450 523h2v1h-2zM452 522h1v1h-1zM453 521h3v1h-3zM456 520h2v1h-2zM458 520h1v1h-1zM459 518h1v2h-1zM460 517h1v1h-1zM461 515h1v2h-1zM462 513h1v2h-1zM463 512h3v1h-3zM466 511h2v1h-2zM468 511h1v1h-1zM469 512h1v1h-1zM470 513h1v1h-1zM471 514h1v1h-1zM472 515h1v1h-1zM473 516h1v2h-1zM474 518h1v2h-1zM475 520h1v2h-1zM476 522h1v3h-1zM477 525h1v2h-1zM478 527h1v1h-1zM478 528h1v3h-1zM479 531h1v6h-1zM480 537h1v5h-1zM481 542h1v6h-1zM482 548h1v6h-1zM483 554h1v2h-1zM483 556h1v1h-1zM484 555h2v1h-2zM486 554h2v1h-2zM488 552h1v2h-1zM489 548h1v4h-1zM490 545h1v3h-1zM491 542h1v3h-1zM492 538h1v4h-1zM493 537h1v1h-1zM493 536h1v3h-1zM494 539h1v4h-1zM495 543h1v4h-1zM496 547h1v5h-1zM497 552h1v4h-1zM498 556h1v2h-1zM498 558h1v1h-1zM499 559h1v1h-1zM500 560h1v1h-1zM501 561h1v2h-1zM502 563h1v1h-1zM503 564h2v1h-2zM505 565h2v1h-2zM507 566h1v1h-1zM508 566h1v1h-1zM509 567h1v1h-1zM510 568h1v1h-1zM511 569h1v2h-1zM512 571h1v1h-1zM513 572h1v1h-1zM514 573h2v1h-2zM516 574h2v1h-2zM518 574h1v2h-1zM519 571h1v3h-1zM520 569h1v2h-1zM521 566h1v3h-1zM522 563h1v3h-1zM523 562h1v1h-1zM523 560h1v2h-1zM524 558h1v2h-1zM525 556h1v2h-1zM526 553h1v3h-1zM527 551h1v2h-1zM528 550h1v1h-1zM528 549h3v1h-3zM531 548h2v1h-2zM533 548h1v1h-1zM534 549h1v1h-1zM535 550h2v1h-2zM537 551h1v1h-1zM538 552h1v1h-1zM539 551h2v1h-2zM541 550h2v1h-2zM543 549h2v1h-2zM545 548h2v1h-2zM547 547h1v1h-1zM548 547h2v1h-2zM550 548h2v1h-2zM552 549h1v1h-1zM553 549h1v1h-1zM554 548h1v1h-1zM555 547h1v1h-1zM556 546h1v1h-1zM557 545h1v1h-1zM558 544h1v1h-1zM559 543h1v1h-1zM560 542h2v1h-2zM562 541h1v1h-1zM563 540h1v1h-1zM564 539h1v1h-1zM565 538h1v1h-1zM566 537h1v1h-1zM567 536h1v1h-1zM568 535h1v1h-1zM569 536h1v2h-1zM570 538h1v2h-1zM571 540h1v2h-1zM572 542h1v2h-1zM573 544h1v1h-1zM573 544h1v2h-1zM574 540h1v4h-1zM575 536h1v4h-1zM576 532h1v4h-1zM577 528h1v4h-1zM578 526h1v2h-1zM578 525h1v1h-1zM579 526h1v2h-1zM580 528h1v1h-1zM581 529h1v1h-1zM582 530h1v2h-1zM583 532h1v2h-1zM584 534h1v2h-1zM585 536h1v3h-1zM586 539h1v3h-1zM587 542h1v2h-1zM588 544h1v1h-1zM588 545h1v2h-1zM589 547h1v4h-1zM590 551h1v4h-1zM591 555h1v4h-1zM592 559h1v4h-1zM593 563h1v1h-1zM593 564h1v1h-1zM594 565h1v2h-1zM595 567h1v1h-1zM596 568h1v1h-1zM597 569h1v2h-1zM598 571h1v1h-1zM599 569h1v2h-1zM600 567h1v2h-1zM601 565h1v2h-1zM602 563h1v2h-1zM603 562h1v1h-1zM603 559h1v3h-1zM604 554h1v5h-1zM605 549h1v5h-1zM606 544h1v5h-1zM607 539h1v5h-1zM608 537h1v2h-1zM608 536h1v1h-1zM609 537h2v1h-2zM611 538h2v1h-2zM613 539h1v1h-1zM614 540h2v1h-2zM616 541h2v1h-2zM618 542h3v1h-3zM621 541h2v1h-2zM623 540h1v2h-1zM624 538h1v2h-1zM625 536h1v2h-1zM626 533h1v3h-1zM627 531h1v2h-1zM628 530h1v1h-1zM628 529h1v1h-1zM629 530h1v1h-1zM630 531h2v1h-2zM632 532h1v1h-1zM633 533h1v1h-1zM634 532h1v1h-1zM635 531h1v1h-1zM636 530h1v1h-1zM637 529h1v1h-1zM638 528h2v1h-2zM640 529h2v1h-2zM642 530h1v1h-1zM643 530h1v1h-1zM644 531h2v1h-2zM646 532h2v1h-2zM648 533h1v1h-1zM649 534h2v1h-2zM651 535h2v1h-2zM653 536h1v1h-1zM654 535h2v1h-2zM656 534h2v1h-2zM658 533h1v1h-1zM659 531h1v2h-1zM660 529h1v2h-1zM661 527h1v2h-1zM662 525h1v2h-1zM663 524h1v1h-1zM663 523h2v1h-2zM665 524h2v1h-2zM667 525h1v1h-1zM668 525h1v1h-1zM669 526h1v1h-1zM670 527h1v1h-1zM671 528h1v2h-1zM672 530h1v1h-1zM673 531h1v1h-1zM674 530h2v1h-2zM676 529h2v1h-2zM678 528h1v1h-1zM679 527h1v1h-1zM680 526h1v1h-1zM681 524h1v2h-1zM682 523h1v1h-1zM683 522h1v1h-1zM684 521h1v1h-1zM685 520h1v1h-1zM686 518h1v2h-1zM687 517h1v1h-1zM688 516h2v1h-2zM690 517h2v1h-2zM692 518h1v1h-1zM693 518h1v1h-1zM694 519h1v2h-1zM695 521h1v1h-1zM696 522h1v1h-1zM697 523h1v2h-1zM698 525h1v1h-1zM699 524h2v1h-2zM701 523h2v1h-2zM703 522h1v1h-1zM704 521h1v1h-1zM705 520h2v1h-2zM707 519h1v1h-1zM708 518h1v1h-1zM709 517h1v1h-1zM710 516h2v1h-2zM712 515h1v1h-1zM713 514h1v1h-1zM714 515h1v1h-1zM715 516h2v1h-2zM717 517h1v1h-1zM718 518h1v3h-1zM719 521h1v5h-1zM720 526h1v5h-1zM721 531h1v5h-1zM722 536h1v5h-1zM723 541h1v2h-1zM723 543h1v3h-1zM724 546h1v4h-1zM725 550h1v4h-1zM726 554h1v4h-1zM727 558h1v4h-1zM728 562h1v2h-1zM728 564h1v1h-1zM729 565h1v1h-1zM730 566h2v1h-2zM732 567h1v1h-1zM733 568h1v1h-1zM734 569h1v2h-1zM735 571h1v1h-1zM736 572h1v1h-1zM737 573h1v2h-1zM738 575h1v1h-1zM739 576h2v1h-2zM741 577h2v1h-2zM743 577h1v2h-1zM744 574h1v3h-1zM745 571h1v3h-1zM746 568h1v3h-1zM747 565h1v3h-1zM748 564h1v1h-1zM748 563h3v1h-3zM751 564h2v1h-2zM753 561h1v4h-1zM754 554h1v7h-1zM755 548h1v6h-1zM756 541h1v7h-1zM757 534h1v7h-1zM758 531h1v3h-1zM758 530h1v1h-1zM759 529h2v1h-2zM761 528h2v1h-2zM763 527h1v1h-1zM764 528h1v2h-1zM765 530h1v2h-1zM766 532h1v2h-1zM767 534h1v2h-1zM768 536h2v1h-2zM770 535h2v1h-2zM772 534h1v1h-1zM773 534h1v1h-1zM774 535h1v1h-1zM775 536h2v1h-2zM777 537h1v1h-1zM778 538h3v1h-3zM781 537h2v1h-2zM783 537h2v1h-2zM785 536h2v1h-2zM787 535h1v1h-1zM788 535h2v1h-2zM790 534h2v1h-2zM792 533h1v1h-1zM793 533h1v1h-1zM794 534h2v1h-2zM796 535h2v1h-2zM798 536h1v1h-1zM799 537h1v2h-1zM800 539h1v2h-1zM801 541h1v2h-1zM802 543h1v2h-1zM803 545h1v1h-1zM803 546h1v1h-1zM804 544h1v2h-1zM805 542h1v2h-1zM806 540h1v2h-1zM807 538h1v2h-1zM808 537h1v1h-1zM808 536h1v1h-1zM809 535h1v1h-1zM810 534h2v1h-2zM812 533h1v1h-1zM813 531h1v2h-1zM814 529h1v2h-1zM815 527h1v2h-1zM816 524h1v3h-1zM817 522h1v2h-1zM818 521h1v1h-1zM818 520h1v2h-1zM819 522h1v2h-1zM820 524h1v3h-1zM821 527h1v3h-1zM822 530h1v2h-1zM823 532h1v1h-1zM823 533h1v1h-1zM824 532h1v1h-1zM825 531h1v1h-1zM826 529h1v2h-1zM827 528h1v1h-1zM828 527h1v2h-1zM829 529h1v4h-1zM830 533h1v4h-1zM831 537h1v4h-1zM832 541h1v4h-1zM833 545h1v1h-1zM833 546h1v1h-1zM834 544h1v2h-1zM835 543h1v1h-1zM836 541h1v2h-1zM837 539h1v2h-1zM838 538h2v1h-2zM840 539h2v1h-2zM842 540h1v1h-1zM843 539h1v2h-1zM844 536h1v3h-1zM845 533h1v3h-1zM846 530h1v3h-1zM847 527h1v3h-1zM848 526h1v1h-1zM848 525h2v1h-2zM850 524h2v1h-2zM852 523h1v1h-1zM853 523h1v1h-1zM854 521h1v2h-1zM855 520h1v1h-1zM856 518h1v2h-1zM857 516h1v2h-1zM858 515h3v1h-3zM861 514h2v1h-2zM863 514h2v1h-2zM865 513h2v1h-2zM867 512h1v1h-1zM868 512h1v2h-1zM869 514h1v2h-1zM870 516h1v2h-1zM871 518h1v3h-1zM872 521h1v2h-1zM873 523h1v1h-1zM873 524h1v1h-1zM874 523h1v1h-1zM875 522h1v1h-1zM876 521h1v1h-1zM877 520h1v1h-1zM878 519h2v1h-2zM880 518h2v1h-2zM882 517h1v1h-1zM883 517h1v1h-1zM884 518h1v1h-1zM885 519h1v1h-1zM886 520h1v2h-1zM887 522h1v1h-1zM888 523h3v1h-3zM891 522h2v1h-2zM893 522h2v1h-2zM895 521h2v1h-2zM897 520h1v1h-1zM898 520h1v1h-1zM899 519h1v1h-1zM900 518h1v1h-1zM901 516h1v2h-1zM902 515h1v1h-1zM903 514h1v1h-1zM904 515h1v2h-1zM905 517h1v2h-1zM906 519h1v2h-1zM907 521h1v2h-1zM908 523h1v1h-1zM908 524h1v1h-1zM909 523h1v1h-1zM910 522h2v1h-2zM912 521h1v1h-1zM913 520h1v1h-1zM914 518h1v2h-1zM915 517h1v1h-1zM916 515h1v2h-1zM917 513h1v2h-1zM918 512h2v1h-2zM920 511h2v1h-2zM922 510h1v1h-1zM923 510h2v1h-2zM925 509h2v1h-2zM927 508h1v1h-1zM928 508h2v1h-2zM930 507h2v1h-2zM932 506h1v1h-1zM933 506h1v1h-1zM934 507h1v2h-1zM935 509h1v2h-1zM936 511h1v2h-1zM937 513h1v2h-1zM938 515h1v1h-1zM938 516h1v1h-1zM939 517h1v2h-1zM940 519h1v1h-1zM941 520h1v1h-1zM942 521h1v2h-1zM943 523h1v1h-1zM944 521h1v2h-1zM945 519h1v2h-1zM946 517h1v2h-1zM947 515h1v2h-1zM948 514h1v1h-1zM948 513h1v1h-1zM949 512h1v1h-1zM950 511h2v1h-2zM952 510h1v1h-1zM953 509h3v1h-3zM956 508h2v1h-2zM958 508h1v1h-1zM959 509h1v1h-1zM960 510h1v1h-1zM961 511h1v1h-1zM962 512h1v1h-1zM963 513h1v2h-1zM964 515h1v2h-1zM965 517h1v2h-1zM966 519h1v2h-1zM967 521h1v2h-1zM968 523h1v1h-1zM968 524h1v2h-1zM969 526h1v4h-1zM970 530h1v4h-1zM971 534h1v4h-1zM972 538h1v4h-1zM973 542h1v2h-1zM973 544h1v2h-1zM974 546h1v2h-1zM975 548h1v2h-1zM976 550h1v3h-1zM977 553h1v2h-1zM978 555h1v1h-1zM978 555h1v2h-1zM979 553h1v2h-1zM980 551h1v2h-1zM981 549h1v2h-1zM982 547h1v2h-1zM983 546h1v1h-1zM983 545h1v1h-1z" fill="#000000" shape-rendering="crispEdges"/>
<g shape-rendering="crispEdges" fill="#000">
<rect x="76" y="68" width="8" height="1"/><rect x="78" y="66" width="1" height="3"/>
<rect x="956" y="197" width="7" height="1"/><rect x="959" y="194" width="1" height="6"/>
<rect x="601" y="454" width="7" height="1"/><rect x="603" y="452" width="1" height="5"/>
</g>
<text x="84" y="65.2" font-size="12" fill="#d0403c" text-anchor="start" font-weight="bold" >78.32</text>
<text x="964" y="194.2" font-size="12" fill="#d0403c" text-anchor="start" font-weight="bold" >73.03</text>
<text x="609" y="466.3" font-size="12" fill="#6aa04e" text-anchor="start" font-weight="bold" >62.47</text>
<rect x="1012.5" y="228.5" width="60" height="17" fill="#fff" stroke="#ff8000" shape-rendering="crispEdges"/>
<text x="1015.3" y="240.8" font-size="12" fill="#ff8000" text-anchor="start" font-weight="normal" textLength="29.5">71.73</text>
<rect x="1012.5" y="425.5" width="60" height="17" fill="#fff" stroke="#e3e9f0" shape-rendering="crispEdges"/>
<text x="1014" y="438.3" font-size="12" fill="#ff8000" text-anchor="start" font-weight="normal" >63.65</text>
<text x="62" y="14.5" font-size="12.2" fill="#000" text-anchor="start" font-weight="normal" font-family='"Liberation Sans", "Noto Sans CJK SC", sans-serif' textLength="60">美原油连续</text>
<text x="123.1" y="14.0" font-size="9.5" fill="#ff8000" text-anchor="start" font-weight="normal" >&lt;</text>
<text x="131.6" y="14.3" font-size="12" fill="#ff8000" text-anchor="start" font-weight="normal" textLength="12.2">60</text>
<text x="144.2" y="14.6" font-size="13" fill="#ff8000" text-anchor="start" font-weight="normal" font-family='"Liberation Sans", "Noto Sans CJK SC", sans-serif'>分</text>
<text x="158.3" y="14.0" font-size="9.5" fill="#ff8000" text-anchor="start" font-weight="normal" >&gt;</text>
<g>
<rect x="174.5" y="2.5" width="11.5" height="11.5" fill="#9a9a9a"/>
<rect x="173.6" y="1.6" width="11" height="11.4" fill="#fff" stroke="#000080" stroke-width="1.2"/>
<polyline points="174.2,9.6 177.8,4.4 180.2,6.8 182.5,5.1 184.2,5.1" fill="none" stroke="#ff0000" stroke-width="0.9"/>
<polyline points="174.2,12 177.8,7.1 180.5,10.4 182.5,8.4 184.4,8.4" fill="none" stroke="#0000ff" stroke-width="0.9"/>
</g>
<text x="188.3" y="14.2" font-size="12" fill="#000" text-anchor="start" font-weight="normal" textLength="99">MA1(10,20,30,40)</text>
<text x="292.3" y="14.2" font-size="12" fill="#000" text-anchor="start" font-weight="normal" textLength="67">MA10:72.08</text>
<text x="369" y="14.2" font-size="12" fill="#00008b" text-anchor="start" font-weight="normal" textLength="66.5">MA20:71.44</text>
<text x="444.7" y="14.2" font-size="12" fill="#ff00ff" text-anchor="start" font-weight="normal" textLength="66.5">MA30:70.76</text>
<text x="520.6" y="14.2" font-size="12" fill="#ff8000" text-anchor="start" font-weight="normal" textLength="66.5">MA40:70.08</text>
<rect x="871.5" y="0.5" width="74" height="15" fill="#fff" stroke="#3a4358" shape-rendering="crispEdges"/>
<text x="878" y="12.7" font-size="12" fill="#39415a" text-anchor="start" font-weight="normal" font-family='"Liberation Sans", "Noto Sans CJK SC", sans-serif' textLength="48">全部主题</text>
<polygon points="927.8,5.2 936,5.2 931.9,12.5" fill="#3d4459"/>
<rect x="949.5" y="1.5" width="13" height="13" fill="#fff" stroke="#1874cd" shape-rendering="crispEdges"/>
<rect x="965.5" y="1.5" width="13" height="13" fill="#fff" stroke="#1874cd" shape-rendering="crispEdges"/>
<rect x="981.5" y="1.5" width="13" height="13" fill="#fff" stroke="#1874cd" shape-rendering="crispEdges"/>
<rect x="997.5" y="1.5" width="13" height="13" fill="#fff" stroke="#1874cd" shape-rendering="crispEdges"/>
<g fill="#1874cd" shape-rendering="crispEdges">
<rect x="955" y="7" width="2" height="2"/>
<rect x="951" y="7" width="3" height="2"/>
<rect x="958" y="7" width="3" height="2"/>
<rect x="955" y="3" width="2" height="3"/>
<rect x="955" y="10" width="2" height="3"/>
</g>
<g stroke="#1874cd" fill="#1874cd" stroke-width="1">
<path d="M968.5 3.5V12.5M967 12.5H974.5" fill="none"/>
<path d="M966.7 5L968.5 2.6L970.3 5Z M975 10.8L977.4 12.5L975 14.2Z M966.7 11.3 L968.5 13.7 L970.3 11.3Z" stroke="none"/>
<path d="M971.7 4V9.6" fill="none" stroke-width="1.2"/>
<path d="M975.2 4.3V9.3L972.6 6.8Z" stroke="none"/>
</g>
<g stroke="#1874cd" fill="#1874cd" stroke-width="1">
<path d="M984.5 3.5V12.5M983 12.5H990.5" fill="none"/>
<path d="M982.7 5L984.5 2.6L986.3 5Z M991 10.8L993.4 12.5L991 14.2Z M982.7 11.3 L984.5 13.7 L986.3 11.3Z" stroke="none"/>
<path d="M987.3 4V10.5" fill="none" stroke-width="1.2"/>
<path d="M988.2 4.8L992.2 7.6L988.2 10.4Z" stroke="none"/>
</g>
<g stroke="#1874cd" fill="#1874cd" stroke-width="1">
<rect x="1000" y="3.5" width="2.4" height="9" fill="none"/>
<path d="M1002 8H1006" fill="none" stroke-width="1.6"/>
<path d="M1005.3 5L1008.8 8L1005.3 11Z" stroke="none"/>
</g>
<text x="62.4" y="499.3" font-size="12" fill="#000" text-anchor="start" font-weight="normal" textLength="67.4">RSI(6,12,24)</text>
<text x="134.3" y="499.3" font-size="12" fill="#000" text-anchor="start" font-weight="normal" textLength="59.5">RSI1:46.96</text>
<text x="203" y="499.3" font-size="12" fill="#00008b" text-anchor="start" font-weight="normal" textLength="59.5">RSI2:57.73</text>
<text x="270.6" y="499.3" font-size="12" fill="#ff00ff" text-anchor="start" font-weight="normal" textLength="59.5">RSI3:61.19</text>
<g shape-rendering="crispEdges"><path fill="#000" d="M0 488h1v1h-1zM1 489h1v1h-1zM2 490h1v4h-1zM1 494h1v1h-1zM0 495h1v1h-1z"/><path fill="#f00" d="M0 491h1v2h-1zM3 487h1v1h-1zM4 486h1v1h-1zM4 491h2v1h-2zM3 496h1v1h-1zM4 497h1v1h-1z"/></g>
<g shape-rendering="crispEdges" fill="#c9d2de">
<rect x="68" y="590" width="1" height="5"/>
<rect x="263" y="590" width="1" height="5"/>
<rect x="723" y="590" width="1" height="5"/>
<rect x="953" y="590" width="1" height="5"/>
</g>
<text x="70.5" y="602" font-size="12" fill="#20223f" text-anchor="start" font-weight="bold" textLength="29.7">11/26</text>
<text x="265.7" y="602" font-size="12" fill="#20223f" text-anchor="start" font-weight="bold" textLength="29.7">11/30</text>
<text x="726" y="602" font-size="12" fill="#20223f" text-anchor="start" font-weight="bold" textLength="29.7">12/04</text>
<text x="955.8" y="602" font-size="12" fill="#20223f" text-anchor="start" font-weight="bold" textLength="29.7">12/08</text>
<text x="4.3" y="604.2" font-size="12" fill="#ff8000" text-anchor="start" font-weight="bold" >60</text>
<text x="17.8" y="604.2" font-size="12.5" fill="#ff8000" text-anchor="start" font-weight="bold" font-family='"Liberation Sans", "Noto Sans CJK SC", sans-serif'>分</text>
<polygon points="35.6,604.2 44,604.2 39.8,595.8" fill="#ff8000"/>
<rect x="491.5" y="589.5" width="164" height="16" fill="#fff" stroke="#e8ecf2" shape-rendering="crispEdges"/>
<text x="493.5" y="602" font-size="12.5" fill="#ff8000" text-anchor="start" font-weight="normal" textLength="63.7">2021/12/01</text>
<text x="563.4" y="602" font-size="12.5" fill="#ff8000" text-anchor="start" font-weight="normal" textLength="29.6">23:00</text>
<text x="595.6" y="601.6" font-size="12.5" fill="#ff8000" text-anchor="start" font-weight="normal" >~</text>
<text x="606.2" y="602" font-size="12.5" fill="#ff8000" text-anchor="start" font-weight="normal" textLength="30">00:00</text>
<text x="640.3" y="602.3" font-size="12.6" fill="#ff8000" text-anchor="start" font-weight="normal" font-family='"Liberation Sans", "Noto Sans CJK SC", sans-serif'>三</text>
<g shape-rendering="crispEdges">
<rect x="0" y="610" width="29" height="14" fill="#1e78c8"/>
<rect x="69" y="610" width="1" height="15" fill="#cdd5df"/>
<rect x="127" y="610" width="1" height="15" fill="#cdd5df"/>
<rect x="155" y="610" width="1" height="15" fill="#cdd5df"/>
<rect x="195" y="610" width="1" height="15" fill="#cdd5df"/>
<rect x="235" y="610" width="1" height="15" fill="#cdd5df"/>
<rect x="269" y="610" width="1" height="15" fill="#cdd5df"/>
<rect x="310" y="610" width="1" height="15" fill="#cdd5df"/>
<rect x="343" y="610" width="1" height="15" fill="#cdd5df"/>
<rect x="377" y="610" width="1" height="15" fill="#cdd5df"/>
<rect x="417" y="610" width="1" height="15" fill="#cdd5df"/>
<rect x="451" y="610" width="1" height="15" fill="#cdd5df"/>
<rect x="480" y="610" width="1" height="15" fill="#cdd5df"/>
<rect x="514" y="610" width="1" height="15" fill="#cdd5df"/>
<rect x="553" y="610" width="1" height="15" fill="#cdd5df"/>
</g>
<text x="-1.6" y="622" font-size="12" fill="#fff" text-anchor="start" font-weight="normal" font-family='"Liberation Sans", "Noto Sans CJK SC", sans-serif' textLength="23.6">指标</text>
<text x="37.6" y="622" font-size="12" fill="#111" text-anchor="start" font-weight="normal" font-family='"Liberation Sans", "Noto Sans CJK SC", sans-serif' textLength="23.6">模板</text>
<text x="78.2" y="621.2" font-size="11" fill="#ff8000" text-anchor="start" font-weight="normal" font-family='"Liberation Mono", monospace' textLength="17.6" lengthAdjust="spacingAndGlyphs">VIP</text>
<text x="96" y="622" font-size="12" fill="#ff8000" text-anchor="start" font-weight="normal" font-family='"Liberation Sans", "Noto Sans CJK SC", sans-serif' textLength="23.8">指标</text>
<text x="141.4" y="621.2" font-size="11" fill="#000" text-anchor="middle" font-weight="normal" font-family='"Liberation Mono", monospace' textLength="12" lengthAdjust="spacingAndGlyphs">MA</text>
<text x="175.4" y="621.2" font-size="11" fill="#000" text-anchor="middle" font-weight="normal" font-family='"Liberation Mono", monospace' textLength="24" lengthAdjust="spacingAndGlyphs">MACD</text>
<text x="215.4" y="621.2" font-size="11" fill="#000" text-anchor="middle" font-weight="normal" font-family='"Liberation Mono", monospace' textLength="24" lengthAdjust="spacingAndGlyphs">BOLL</text>
<text x="252.8" y="621.2" font-size="11" fill="#000" text-anchor="middle" font-weight="normal" font-family='"Liberation Mono", monospace' textLength="18" lengthAdjust="spacingAndGlyphs">VOL</text>
<text x="289.4" y="621.2" font-size="11" fill="#000" text-anchor="middle" font-weight="normal" font-family='"Liberation Mono", monospace' textLength="24" lengthAdjust="spacingAndGlyphs">BIAS</text>
<text x="326.5" y="621.2" font-size="11" fill="#000" text-anchor="middle" font-weight="normal" font-family='"Liberation Mono", monospace' textLength="18" lengthAdjust="spacingAndGlyphs">CCI</text>
<text x="361" y="621.2" font-size="11" fill="#000" text-anchor="middle" font-weight="normal" font-family='"Liberation Mono", monospace' textLength="18" lengthAdjust="spacingAndGlyphs">KDJ</text>
<text x="395" y="621.2" font-size="11" fill="#000" text-anchor="middle" font-weight="normal" font-family='"Liberation Mono", monospace' textLength="18" lengthAdjust="spacingAndGlyphs">LW&amp;</text>
<text x="431.4" y="621.2" font-size="11" fill="#000" text-anchor="middle" font-weight="normal" font-family='"Liberation Mono", monospace' textLength="18" lengthAdjust="spacingAndGlyphs">RSI</text>
<text x="465.4" y="621.2" font-size="11" fill="#000" text-anchor="middle" font-weight="normal" font-family='"Liberation Mono", monospace' textLength="12" lengthAdjust="spacingAndGlyphs">CR</text>
<text x="495.9" y="621.2" font-size="11" fill="#000" text-anchor="middle" font-weight="normal" font-family='"Liberation Mono", monospace' textLength="18" lengthAdjust="spacingAndGlyphs">PSY</text>
<text x="521" y="622" font-size="12" fill="#111" text-anchor="start" font-weight="normal" font-family='"Liberation Sans", "Noto Sans CJK SC", sans-serif' textLength="23.8">设置</text>
</svg>
</body></html>
